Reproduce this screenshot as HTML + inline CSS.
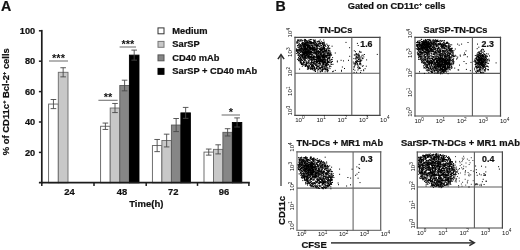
<!DOCTYPE html>
<html><head><meta charset="utf-8"><title>Figure</title>
<style>html,body{margin:0;padding:0;background:#fff;}body{width:520px;height:250px;overflow:hidden;font-family:"Liberation Sans",sans-serif;}svg{display:block;will-change:transform;filter:blur(0.3px);}text{font-family:"Liberation Sans",sans-serif;font-weight:bold;fill:#111;stroke:#111;stroke-width:0.22px;}</style>
</head><body>
<svg width="520" height="250" viewBox="0 0 520 250">
<rect x="0" y="0" width="520" height="250" fill="#ffffff"/>
<text x="0.9" y="11.2" font-size="14.2">A</text>
<text x="275.4" y="11.2" font-size="14.2">B</text>
<text x="35.2" y="155.6" font-size="9.2" text-anchor="end">20</text>
<text x="35.2" y="125.2" font-size="9.2" text-anchor="end">40</text>
<text x="35.2" y="94.8" font-size="9.2" text-anchor="end">60</text>
<text x="35.2" y="64.4" font-size="9.2" text-anchor="end">80</text>
<text x="35.2" y="34.0" font-size="9.2" text-anchor="end">100</text>
<text x="69.5" y="194.7" font-size="9.4" text-anchor="middle">24</text>
<text x="121.9" y="194.7" font-size="9.4" text-anchor="middle">48</text>
<text x="173.3" y="194.7" font-size="9.4" text-anchor="middle">72</text>
<text x="223.9" y="194.7" font-size="9.4" text-anchor="middle">96</text>
<text x="146.3" y="207.2" font-size="9.5" text-anchor="middle">Time(h)</text>
<text transform="translate(9.2,101.7) rotate(-90)" font-size="9.45" text-anchor="middle">% of CD11c<tspan font-size="5.5" dy="-3.2">+</tspan><tspan dy="3.2"> Bcl-2</tspan><tspan font-size="5.5" dy="-3.2">+</tspan><tspan dy="3.2"> cells</tspan></text>
<rect x="48.60" y="104.06" width="9.70" height="78.74" fill="#ffffff" stroke="#606060" stroke-width="0.9"/>
<rect x="58.30" y="72.30" width="9.70" height="110.50" fill="#c8c8c8" stroke="#6a6a6a" stroke-width="0.9"/>
<path d="M53.45 99.50V108.62M50.65 99.50H56.25M50.65 108.62H56.25" stroke="#484848" stroke-width="0.9" fill="none"/>
<path d="M63.15 67.74V76.86M60.35 67.74H65.95M60.35 76.86H65.95" stroke="#484848" stroke-width="0.9" fill="none"/>
<rect x="100.60" y="126.26" width="9.60" height="56.54" fill="#ffffff" stroke="#606060" stroke-width="0.9"/>
<rect x="110.20" y="108.02" width="9.60" height="74.78" fill="#c8c8c8" stroke="#6a6a6a" stroke-width="0.9"/>
<rect x="119.80" y="85.52" width="9.60" height="97.28" fill="#868686" stroke="#5a5a5a" stroke-width="0.9"/>
<rect x="129.40" y="55.12" width="9.60" height="127.68" fill="#000000" stroke="#000000" stroke-width="0.9"/>
<path d="M105.40 123.06V129.45M102.60 123.06H108.20M102.60 129.45H108.20" stroke="#484848" stroke-width="0.9" fill="none"/>
<path d="M115.00 103.46V112.58M112.20 103.46H117.80M112.20 112.58H117.80" stroke="#484848" stroke-width="0.9" fill="none"/>
<path d="M124.60 80.20V90.84M121.80 80.20H127.40M121.80 90.84H127.40" stroke="#484848" stroke-width="0.9" fill="none"/>
<path d="M134.20 50.10V60.14M131.40 50.10H137.00M131.40 60.14H137.00" stroke="#484848" stroke-width="0.9" fill="none"/>
<rect x="152.40" y="145.56" width="9.50" height="37.24" fill="#ffffff" stroke="#606060" stroke-width="0.9"/>
<rect x="161.90" y="140.54" width="9.50" height="42.26" fill="#c8c8c8" stroke="#6a6a6a" stroke-width="0.9"/>
<rect x="171.40" y="125.04" width="9.50" height="57.76" fill="#868686" stroke="#5a5a5a" stroke-width="0.9"/>
<rect x="180.90" y="112.88" width="9.50" height="69.92" fill="#000000" stroke="#000000" stroke-width="0.9"/>
<path d="M157.15 139.48V151.64M154.35 139.48H159.95M154.35 151.64H159.95" stroke="#484848" stroke-width="0.9" fill="none"/>
<path d="M166.65 134.16V146.93M163.85 134.16H169.45M163.85 146.93H169.45" stroke="#484848" stroke-width="0.9" fill="none"/>
<path d="M176.15 118.50V131.58M173.35 118.50H178.95M173.35 131.58H178.95" stroke="#484848" stroke-width="0.9" fill="none"/>
<path d="M185.65 107.41V118.35M182.85 107.41H188.45M182.85 118.35H188.45" stroke="#484848" stroke-width="0.9" fill="none"/>
<rect x="204.00" y="152.10" width="9.45" height="30.70" fill="#ffffff" stroke="#606060" stroke-width="0.9"/>
<rect x="213.45" y="149.36" width="9.45" height="33.44" fill="#c8c8c8" stroke="#6a6a6a" stroke-width="0.9"/>
<rect x="222.90" y="132.34" width="9.45" height="50.46" fill="#868686" stroke="#5a5a5a" stroke-width="0.9"/>
<rect x="232.35" y="122.46" width="9.45" height="60.34" fill="#000000" stroke="#000000" stroke-width="0.9"/>
<path d="M208.72 149.06V155.14M205.92 149.06H211.53M205.92 155.14H211.53" stroke="#484848" stroke-width="0.9" fill="none"/>
<path d="M218.17 144.80V153.92M215.37 144.80H220.97M215.37 153.92H220.97" stroke="#484848" stroke-width="0.9" fill="none"/>
<path d="M227.62 128.69V135.98M224.82 128.69H230.43M224.82 135.98H230.43" stroke="#484848" stroke-width="0.9" fill="none"/>
<path d="M237.07 117.90V127.02M234.27 117.90H239.88M234.27 127.02H239.88" stroke="#484848" stroke-width="0.9" fill="none"/>
<g stroke="#1c1c1c" stroke-width="1.7" fill="none">
<path d="M41.8 29.9V183.5"/>
<path d="M38.9 182.7H249.8"/>
</g>
<g stroke="#1c1c1c" stroke-width="1.5" fill="none">
<path d="M38.9 152.4H41.8"/>
<path d="M38.9 122.0H41.8"/>
<path d="M38.9 91.6H41.8"/>
<path d="M38.9 61.2H41.8"/>
<path d="M38.9 30.8H41.8"/>
<path d="M41.8 182.7V185.9"/>
<path d="M94.0 182.7V185.9"/>
<path d="M146.2 182.7V185.9"/>
<path d="M197.5 182.7V185.9"/>
<path d="M248.9 182.7V185.9"/>
</g>
<path d="M49 61H68" stroke="#777" stroke-width="1.1"/>
<text x="58.5" y="61.9" font-size="11" text-anchor="middle" fill="#222" style="stroke-width:0">***</text>
<path d="M119.6 47H136" stroke="#777" stroke-width="1.1"/>
<text x="127.8" y="48.4" font-size="11" text-anchor="middle" fill="#222" style="stroke-width:0">***</text>
<path d="M98.4 100.3H117.6" stroke="#777" stroke-width="1.1"/>
<text x="108.0" y="100.9" font-size="11" text-anchor="middle" fill="#222" style="stroke-width:0">**</text>
<path d="M221.6 115H240" stroke="#777" stroke-width="1.1"/>
<text x="230.8" y="115.6" font-size="11" text-anchor="middle" fill="#222" style="stroke-width:0">*</text>
<rect x="158" y="27.9" width="6" height="5.9" fill="#ffffff" stroke="#333" stroke-width="1"/>
<text x="172.3" y="33.6" font-size="9.3">Medium</text>
<rect x="158" y="41.4" width="6" height="5.9" fill="#c8c8c8" stroke="#777" stroke-width="1"/>
<text x="172.3" y="47.1" font-size="9.3">SarSP</text>
<rect x="158" y="54.9" width="6" height="5.9" fill="#868686" stroke="#555" stroke-width="1"/>
<text x="172.3" y="60.6" font-size="9.3">CD40 mAb</text>
<rect x="158" y="68.4" width="6" height="5.9" fill="#000000" stroke="#000" stroke-width="1"/>
<text x="172.3" y="74.1" font-size="9.3">SarSP + CD40 mAb</text>
<text x="396.6" y="9.0" font-size="9.3" text-anchor="middle">Gated on CD11c<tspan font-size="5.5" dy="-3.4">+</tspan><tspan dy="3.4"> cells</tspan></text>
<path d="M295 116.0V36.8" stroke="#585858" stroke-width="1.2" fill="none"/>
<path d="M379.9 116.0V36.8" stroke="#484848" stroke-width="1.2" fill="none"/>
<path d="M294.4 37.4H380.5" stroke="#484848" stroke-width="1.2" fill="none"/>
<path d="M294.4 115.4H380.5" stroke="#484848" stroke-width="1.2" fill="none"/>
<path d="M351.8 37.4V115.4M295 73.3H379.9" stroke="#5c5c5c" stroke-width="1.1" fill="none"/>
<text x="335.5" y="33.2" font-size="9.2" text-anchor="middle">TN-DCs</text>
<text x="366.4" y="47.4" font-size="8.8" text-anchor="middle">1.6</text>
<text x="295.2" y="121.7" font-size="6.1" style="font-weight:normal;stroke-width:0" fill="#3a3a3a">10<tspan font-size="4.7" dy="-2.5">0</tspan></text>
<text transform="translate(292.3,115.4) rotate(-90)" font-size="6.1" style="font-weight:normal;stroke-width:0" fill="#3a3a3a">10<tspan font-size="4.7" dy="-2.5">0</tspan></text>
<text x="316.4" y="121.7" font-size="6.1" style="font-weight:normal;stroke-width:0" fill="#3a3a3a">10<tspan font-size="4.7" dy="-2.5">1</tspan></text>
<text transform="translate(292.3,95.9) rotate(-90)" font-size="6.1" style="font-weight:normal;stroke-width:0" fill="#3a3a3a">10<tspan font-size="4.7" dy="-2.5">1</tspan></text>
<text x="337.6" y="121.7" font-size="6.1" style="font-weight:normal;stroke-width:0" fill="#3a3a3a">10<tspan font-size="4.7" dy="-2.5">2</tspan></text>
<text transform="translate(292.3,76.4) rotate(-90)" font-size="6.1" style="font-weight:normal;stroke-width:0" fill="#3a3a3a">10<tspan font-size="4.7" dy="-2.5">2</tspan></text>
<text x="358.9" y="121.7" font-size="6.1" style="font-weight:normal;stroke-width:0" fill="#3a3a3a">10<tspan font-size="4.7" dy="-2.5">3</tspan></text>
<text transform="translate(292.3,56.9) rotate(-90)" font-size="6.1" style="font-weight:normal;stroke-width:0" fill="#3a3a3a">10<tspan font-size="4.7" dy="-2.5">3</tspan></text>
<text x="380.1" y="121.7" font-size="6.1" style="font-weight:normal;stroke-width:0" fill="#3a3a3a">10<tspan font-size="4.7" dy="-2.5">4</tspan></text>
<text transform="translate(292.3,37.4) rotate(-90)" font-size="6.1" style="font-weight:normal;stroke-width:0" fill="#3a3a3a">10<tspan font-size="4.7" dy="-2.5">4</tspan></text>
<path d="M323.7 47.9h1M312.3 54.9h1M319.9 68.5h1M314.1 52.0h1M312.8 59.3h1M298.7 41.0h1M304.6 40.5h1M311.5 57.9h1M318.9 52.2h1M309.5 48.8h1M305.9 62.0h1M327.5 54.2h1M304.3 46.7h1M311.7 67.2h1M317.3 44.7h1M304.4 64.0h1M313.9 56.1h1M329.3 54.6h1M300.4 58.7h1M313.9 61.4h1M321.7 57.8h1M321.4 62.9h1M313.9 41.6h1M302.5 53.0h1M313.7 63.8h1M310.0 53.2h1M310.2 57.8h1M324.2 50.2h1M322.7 69.5h1M306.5 53.5h1M316.6 54.5h1M303.8 60.5h1M311.7 68.3h1M308.6 45.0h1M319.3 67.1h1M308.7 57.6h1M312.4 50.0h1M320.1 48.2h1M304.5 56.2h1M321.1 49.6h1M310.3 39.6h1M318.8 41.3h1M314.6 54.7h1M310.4 59.8h1M299.2 45.9h1M318.8 42.8h1M314.6 48.9h1M317.6 45.5h1M319.8 43.8h1M297.2 51.8h1M307.5 43.7h1M316.4 64.4h1M303.8 52.6h1M328.3 58.7h1M327.0 63.3h1M312.4 49.9h1M300.3 59.6h1M306.7 63.1h1M310.9 68.7h1M323.3 63.0h1M313.1 57.8h1M300.7 51.1h1M307.3 48.3h1M307.3 41.9h1M306.0 65.6h1M302.0 58.1h1M310.8 47.8h1M310.9 43.5h1M321.2 49.9h1M324.1 64.1h1M313.5 47.3h1M311.8 43.0h1M323.6 50.3h1M327.7 49.8h1M319.1 61.9h1M323.8 57.8h1M329.6 55.3h1M325.9 65.5h1M304.8 44.0h1M313.5 49.3h1M322.5 53.2h1M320.8 41.4h1M301.2 63.8h1M318.7 63.8h1M298.8 50.0h1M310.1 68.3h1M323.3 57.1h1M310.1 47.7h1M316.1 59.7h1M320.1 60.9h1M324.9 64.3h1M321.9 71.4h1M308.6 51.7h1M311.3 53.0h1M298.3 40.8h1M313.3 53.5h1M316.1 47.0h1M329.2 66.1h1M300.2 40.1h1M304.0 42.9h1M319.8 61.3h1M301.3 57.8h1M304.5 52.6h1M319.6 65.0h1M301.4 48.1h1M324.5 45.4h1M324.3 54.7h1M296.1 42.1h1M314.4 62.9h1M324.9 69.2h1M302.4 42.7h1M328.0 53.1h1M327.0 69.5h1M312.9 58.2h1M323.1 62.4h1M325.3 46.5h1M301.2 47.7h1M319.7 39.9h1M326.6 71.1h1M314.4 47.0h1M305.6 65.8h1M325.6 57.2h1M309.1 63.1h1M300.9 62.3h1M314.5 64.1h1M319.2 52.1h1M299.2 56.5h1M306.6 48.6h1M303.7 62.5h1M324.8 50.3h1M311.2 56.6h1M322.6 58.3h1M324.7 62.4h1M315.6 48.0h1M326.1 66.1h1M308.0 67.6h1M306.0 64.6h1M300.0 60.7h1M328.7 58.5h1M316.5 46.6h1M298.1 60.5h1M309.8 64.6h1M311.4 64.1h1M301.9 44.4h1M313.4 49.5h1M313.5 68.9h1M307.7 65.2h1M320.6 43.3h1M304.1 54.5h1M301.8 66.3h1M307.6 67.0h1M310.1 57.3h1M302.9 44.1h1M327.9 46.3h1M299.7 44.5h1M309.4 41.7h1M303.3 62.4h1M311.2 61.6h1M305.5 54.8h1M313.8 69.3h1M310.9 45.7h1M318.1 58.5h1M317.0 57.4h1M323.8 42.1h1M322.9 60.7h1M331.5 59.4h1M317.0 50.0h1M305.2 58.0h1M318.4 40.9h1M319.3 49.1h1M319.3 60.8h1M301.0 59.9h1M331.1 55.0h1M310.5 48.6h1M317.2 42.0h1M322.4 47.8h1M308.7 46.5h1M304.4 46.6h1M316.8 48.5h1M326.5 57.2h1M311.9 68.5h1M312.9 43.6h1M299.4 39.8h1M318.2 66.7h1M316.6 61.0h1M304.1 58.1h1M324.1 48.1h1M300.8 48.2h1M323.3 63.7h1M313.2 39.8h1M316.1 46.3h1M303.4 59.0h1M327.2 53.8h1M299.7 44.9h1M317.7 57.8h1M307.0 66.3h1M324.0 47.5h1M315.9 51.0h1M310.8 57.4h1M326.6 61.6h1M313.8 50.2h1M306.4 52.0h1M322.5 68.4h1M317.8 53.0h1M318.0 43.8h1M307.6 66.3h1M300.2 57.5h1M308.1 63.8h1M308.1 60.8h1M326.4 59.1h1M309.6 58.9h1M319.5 67.6h1M308.2 57.3h1M297.8 58.9h1M304.9 46.8h1M330.7 61.5h1M308.9 47.5h1M302.0 64.8h1M299.6 46.0h1M325.6 52.7h1M313.3 57.9h1M297.2 40.8h1M328.1 50.5h1M308.0 49.9h1M321.9 46.1h1M313.3 56.1h1M299.3 50.8h1M301.0 47.9h1M301.5 60.0h1M302.3 48.3h1M299.0 48.2h1M298.8 47.2h1M313.8 70.8h1M322.0 42.8h1M329.4 62.5h1M313.3 48.1h1M332.0 61.4h1M297.8 40.3h1M308.8 58.5h1M313.7 52.5h1M325.1 67.0h1M318.1 50.9h1M310.2 48.7h1M323.7 62.3h1M326.6 68.3h1M327.0 45.3h1M322.3 44.5h1M307.3 53.9h1M312.3 57.5h1M313.4 57.3h1M325.0 65.3h1M304.0 54.9h1M318.7 61.7h1M310.6 56.9h1M302.4 56.8h1M311.8 66.2h1M300.6 56.3h1M304.0 52.3h1M307.9 62.4h1M325.2 53.0h1M313.9 50.9h1M297.5 53.0h1M323.5 51.1h1M297.5 51.0h1M324.6 48.6h1M303.3 46.7h1M309.1 53.9h1M311.6 52.5h1M318.7 57.9h1M321.2 67.2h1M324.4 62.2h1M327.1 59.1h1M303.3 59.2h1M314.3 45.7h1M307.5 44.6h1M296.9 41.2h1M312.3 59.2h1M323.7 57.7h1M323.9 53.8h1M302.1 55.3h1M313.4 68.0h1M302.0 43.1h1M323.3 47.3h1M324.0 56.8h1M322.2 56.7h1M329.0 57.3h1M302.2 40.3h1M298.7 61.1h1M315.9 53.5h1M311.6 65.9h1M308.6 60.9h1M312.7 65.9h1M306.9 69.2h1M312.9 42.7h1M306.3 58.4h1M312.4 65.0h1M329.5 66.0h1M315.8 54.6h1M306.7 63.7h1M312.0 48.8h1M330.6 59.4h1M308.8 41.2h1M322.5 51.8h1M325.3 60.2h1M309.3 43.8h1M318.5 43.6h1M312.3 67.9h1M319.7 63.9h1M311.2 58.7h1M319.8 57.2h1M328.0 48.0h1M313.8 61.4h1M304.2 44.0h1M311.8 58.1h1M327.8 46.8h1M313.7 67.9h1M308.3 50.8h1M329.5 62.0h1M299.2 60.1h1M326.7 62.5h1M305.1 46.0h1M315.5 49.1h1M303.8 55.6h1M314.7 50.1h1M315.1 64.3h1M320.1 60.1h1M299.8 61.7h1M318.9 46.3h1M327.4 61.2h1M329.0 66.9h1M295.9 48.9h1M306.5 42.8h1M312.4 64.7h1M317.1 66.5h1M307.7 44.9h1M310.5 52.6h1M327.0 60.0h1M325.8 50.8h1M299.2 51.8h1M306.0 42.2h1M304.3 50.9h1M314.5 53.1h1M303.7 57.8h1M315.0 71.5h1M325.9 51.6h1M304.8 66.1h1M311.1 42.8h1M318.6 61.9h1M309.5 41.0h1M309.7 48.2h1M302.1 57.1h1M326.2 55.5h1M321.5 57.3h1M310.1 47.2h1M319.1 51.4h1M315.2 48.2h1M314.3 59.7h1M309.1 54.8h1M312.1 60.2h1M329.3 56.4h1M322.8 61.1h1M299.9 57.4h1M313.8 59.6h1M309.3 59.3h1M299.6 58.0h1M309.7 51.8h1M297.9 47.8h1M305.1 57.5h1M324.0 48.2h1M319.6 61.3h1M322.0 69.5h1M303.2 64.8h1M297.0 45.5h1M300.4 40.3h1M298.3 45.7h1M329.9 55.9h1M301.8 43.8h1M329.8 51.1h1M314.4 43.2h1M310.0 56.9h1M311.3 62.8h1M306.8 54.2h1M316.3 43.4h1M322.1 56.1h1M313.8 40.4h1M323.1 64.3h1M318.8 41.8h1M332.1 57.6h1M313.4 60.8h1M318.0 46.1h1M306.6 41.2h1M329.5 53.7h1M314.0 67.7h1M328.0 57.8h1M299.0 50.1h1M327.2 65.0h1M301.1 46.1h1M308.6 56.9h1M312.7 57.0h1M313.6 42.5h1M307.6 62.4h1M308.4 47.2h1M329.6 53.8h1M326.3 50.2h1M315.1 69.7h1M330.4 63.1h1M325.9 69.0h1M309.7 64.1h1M317.7 48.3h1M308.5 68.7h1M328.6 61.9h1M314.2 56.9h1M315.8 45.3h1M319.3 58.3h1M329.2 58.0h1M311.1 61.1h1M317.2 41.4h1M303.2 48.2h1M304.1 57.2h1M314.1 67.7h1M306.8 46.1h1M322.6 42.3h1M305.6 64.7h1M327.1 53.2h1M320.3 43.3h1M319.3 46.6h1M326.8 52.0h1M297.5 39.5h1M303.2 62.1h1M328.6 53.5h1M328.6 50.2h1M324.6 71.8h1M301.3 51.3h1M300.3 58.6h1M308.0 53.2h1M310.9 68.8h1M329.2 48.2h1M310.2 42.4h1M303.9 43.8h1M296.6 43.2h1M310.4 62.5h1M314.4 59.7h1M310.4 59.1h1M300.0 62.4h1M319.7 45.0h1M309.9 49.7h1M301.9 60.5h1M313.6 66.7h1M304.4 49.8h1M307.6 55.0h1M300.3 49.0h1M323.6 47.3h1M304.8 59.9h1M301.5 55.2h1M321.7 48.8h1M325.8 63.2h1M324.9 45.2h1M326.1 67.1h1M307.7 68.7h1M311.4 42.8h1M318.0 69.4h1M303.7 59.3h1M326.7 67.4h1M320.8 60.1h1M327.0 62.5h1M310.6 68.0h1M313.5 64.0h1M303.9 53.5h1M309.1 52.2h1M320.6 71.2h1M299.0 53.6h1M298.2 44.7h1M298.6 49.8h1M311.2 57.8h1M323.3 46.2h1M302.8 55.1h1M311.7 60.2h1M313.5 50.9h1M325.8 64.3h1M301.6 56.3h1M296.0 50.5h1M313.3 63.1h1M309.6 56.2h1M305.7 53.5h1M322.3 43.4h1M319.7 71.8h1M298.8 43.6h1M315.9 52.7h1M324.0 57.6h1M327.0 71.8h1M321.6 70.9h1M316.0 55.5h1M318.3 51.6h1M304.4 62.1h1M324.9 69.0h1M296.5 49.5h1M307.0 66.2h1M320.2 59.2h1M299.3 49.9h1M320.5 61.2h1M323.7 51.1h1M326.6 55.5h1M309.0 45.4h1M300.9 39.9h1M305.7 43.4h1M310.6 60.2h1M298.4 42.9h1M321.2 49.6h1M297.7 55.5h1M297.4 50.9h1M328.5 54.2h1M324.3 54.0h1M305.2 64.6h1M306.7 52.3h1M323.7 49.0h1M306.8 46.2h1M311.1 59.3h1M324.6 60.2h1M331.3 64.5h1M316.1 62.8h1M300.4 56.1h1M323.2 51.9h1M296.6 42.1h1M309.4 68.0h1M305.3 48.0h1M327.6 48.6h1M319.9 59.3h1M301.1 64.2h1M316.3 65.0h1M301.2 59.5h1M325.3 55.5h1M328.2 61.5h1M300.8 48.5h1M308.4 47.7h1M310.8 52.3h1M307.6 56.1h1M311.3 39.6h1M312.8 62.6h1M323.1 63.5h1M304.5 47.1h1M309.9 46.8h1M310.6 45.2h1M302.1 52.5h1M317.3 70.3h1M309.6 51.6h1M327.2 70.7h1M324.2 44.2h1M303.1 47.8h1M302.2 56.5h1M324.1 45.7h1M315.1 42.4h1M318.2 50.8h1M311.1 62.3h1M323.0 45.5h1M321.9 49.3h1M329.5 68.6h1M321.8 59.6h1M305.2 52.0h1M307.2 42.5h1M297.3 42.3h1M327.0 59.0h1M301.7 42.7h1M315.7 45.6h1M314.0 41.1h1M310.7 51.4h1M301.8 45.8h1M309.4 50.1h1M297.9 54.9h1M308.2 45.8h1M319.7 43.2h1M298.4 44.7h1M313.5 51.2h1M305.8 55.1h1M324.3 62.2h1M306.0 62.1h1M304.7 57.2h1M320.9 45.7h1M298.3 59.2h1M315.6 54.0h1M317.2 67.2h1M303.3 47.0h1M308.8 60.9h1M317.3 52.1h1M304.0 48.9h1M310.6 42.9h1M308.4 66.0h1M322.9 49.0h1M302.6 62.9h1M312.1 69.2h1M312.8 57.8h1M316.8 51.6h1M322.2 62.2h1M324.4 52.3h1M321.8 57.5h1M324.2 59.5h1M326.0 49.9h1M307.4 59.2h1M324.9 55.8h1M313.1 59.1h1M304.8 48.9h1M303.0 63.1h1M323.8 44.1h1M318.0 56.4h1M298.8 56.4h1M309.6 57.7h1M314.5 42.7h1M318.7 65.8h1M300.6 63.4h1M314.9 63.8h1M323.6 56.1h1M321.3 65.1h1M308.1 51.6h1M316.4 53.3h1M323.3 51.8h1M325.8 50.4h1M310.3 69.5h1M327.9 55.4h1M307.2 54.8h1M304.4 51.9h1M306.3 51.0h1M323.1 47.8h1M310.7 63.7h1M320.6 53.9h1M299.2 58.5h1M313.4 66.6h1M310.4 51.6h1M311.3 48.3h1M302.9 54.4h1M316.2 54.4h1M320.3 69.1h1M316.1 68.0h1M321.1 67.6h1M311.1 62.1h1M326.8 55.8h1M315.9 46.7h1M327.7 68.1h1M312.4 66.5h1M320.8 56.1h1M302.4 63.3h1M329.2 48.6h1M307.7 57.5h1M317.6 44.7h1M323.7 69.6h1M312.6 59.7h1M304.5 61.0h1M305.0 58.8h1M316.2 57.5h1M327.3 56.8h1M323.0 46.6h1M320.5 49.9h1M297.6 53.6h1M321.8 59.1h1M317.3 72.0h1M309.1 42.1h1M308.2 45.6h1M297.7 50.2h1M324.6 61.6h1M313.4 47.4h1M324.9 68.3h1M301.7 53.1h1M319.6 67.5h1M305.1 66.2h1M325.9 55.8h1M312.2 49.4h1M328.6 55.3h1M318.3 68.8h1M305.8 53.0h1M315.7 65.2h1M323.8 51.8h1M303.6 46.1h1M312.8 49.8h1M329.9 54.1h1M308.9 47.4h1M330.6 64.5h1M325.0 59.9h1M313.6 70.4h1M317.8 63.7h1M297.6 54.9h1M315.4 45.8h1M323.1 47.2h1M297.1 59.4h1M296.6 43.1h1M301.6 56.7h1M305.0 65.9h1M324.9 65.4h1M312.1 65.1h1M316.4 68.5h1M306.5 57.0h1M305.4 60.6h1M315.3 41.3h1M322.2 61.2h1M302.9 56.1h1M311.9 46.1h1M319.1 48.9h1M327.9 62.3h1M305.6 45.0h1M306.7 50.9h1M315.3 52.5h1M300.9 64.2h1M317.0 45.9h1M304.7 44.9h1M313.6 62.4h1M300.6 41.1h1M313.8 56.5h1M330.8 55.0h1M315.3 50.1h1M303.7 51.2h1M306.2 55.4h1M317.8 41.6h1M325.5 49.3h1M312.8 52.9h1M312.7 44.9h1M324.3 55.8h1M300.5 49.2h1M313.2 43.0h1M307.9 51.4h1M323.7 61.5h1M305.4 66.3h1M301.2 55.7h1M304.8 42.9h1M318.7 60.0h1M310.8 41.7h1M305.5 49.7h1M302.6 57.3h1M322.3 43.2h1M306.1 53.7h1M308.9 57.0h1M315.5 49.5h1M322.3 49.3h1M318.9 68.3h1M323.5 48.5h1M322.4 48.5h1M312.7 50.0h1M322.4 43.8h1M316.1 49.1h1M303.6 47.3h1M315.8 67.8h1M316.4 48.4h1M323.0 67.0h1M303.5 58.4h1M309.7 66.9h1M323.2 44.1h1M312.3 45.9h1M304.4 64.3h1M327.3 62.0h1M306.3 44.4h1M314.1 43.7h1M306.5 42.8h1M304.9 51.9h1M324.2 59.7h1M311.2 43.2h1M302.6 54.8h1M312.1 57.8h1M309.9 41.5h1M312.1 62.6h1M322.9 52.2h1M303.6 58.2h1M297.3 50.4h1M319.9 71.8h1M321.8 66.5h1M302.8 52.8h1M316.1 50.0h1M304.2 41.4h1M314.5 69.2h1M305.6 58.4h1M321.4 54.1h1M312.4 43.9h1M314.0 59.8h1M304.3 57.3h1M310.4 64.0h1M328.4 62.7h1M323.0 59.6h1M315.0 57.2h1M317.9 52.9h1M310.5 43.4h1M326.3 49.0h1M301.6 64.4h1M325.7 60.2h1M309.0 65.7h1M308.8 53.9h1M322.5 51.2h1M309.5 50.7h1M323.6 58.7h1M303.4 45.7h1M323.0 57.6h1M303.0 57.9h1M305.3 48.5h1M297.6 40.7h1M299.5 41.3h1M312.8 63.5h1M322.3 64.5h1M299.9 61.7h1M320.7 47.5h1M315.9 67.8h1M318.6 53.4h1M305.8 53.2h1M306.3 48.5h1M328.7 57.8h1M323.3 45.1h1M319.7 63.6h1M326.4 69.8h1M316.5 62.1h1M319.2 68.6h1M299.1 53.1h1M314.8 40.0h1M307.4 56.4h1M323.8 57.8h1M306.2 63.3h1M311.5 67.4h1M299.7 59.8h1M313.5 41.3h1M324.0 68.3h1M301.0 50.8h1M314.9 44.1h1M301.1 44.0h1M325.0 69.4h1M328.5 52.4h1M300.1 54.5h1M304.4 47.8h1M315.7 57.1h1M330.2 60.3h1M327.8 53.0h1M306.6 45.5h1M296.2 51.4h1M314.8 44.2h1M314.6 49.5h1M304.3 53.7h1M315.7 45.7h1M301.3 63.3h1M325.4 70.0h1M301.2 49.8h1M301.4 43.8h1M323.4 54.5h1M300.5 60.6h1M317.5 51.5h1M324.9 58.9h1M322.3 48.8h1M311.9 46.3h1M302.2 48.7h1M312.0 47.2h1M309.6 63.1h1M313.3 57.4h1M304.6 65.9h1M300.8 45.4h1M322.6 56.9h1M320.2 53.8h1M325.5 63.6h1M310.5 52.3h1M300.3 49.0h1M328.7 52.0h1M328.2 64.4h1M325.4 56.4h1M322.3 57.2h1M312.9 66.4h1M303.3 65.0h1M322.5 51.9h1M329.4 57.6h1M311.2 45.6h1M305.0 39.7h1M317.6 45.2h1M303.0 61.7h1M326.5 69.3h1M327.1 60.4h1M316.3 62.3h1M304.2 49.4h1M326.8 61.1h1M307.5 55.7h1M314.3 50.2h1M311.8 48.7h1M324.4 61.0h1M303.2 54.7h1M328.9 60.1h1M322.2 65.7h1M314.3 63.9h1M304.2 39.4h1M297.4 49.5h1M325.3 56.4h1M327.5 52.2h1M306.9 45.7h1M312.6 57.0h1M314.8 70.8h1M313.2 57.5h1M314.1 49.5h1M300.0 45.1h1M310.9 42.5h1M309.7 67.7h1M331.0 62.6h1M326.6 48.7h1M319.8 56.9h1M309.4 51.1h1M315.6 51.7h1M313.2 58.1h1M307.2 66.9h1M327.9 51.0h1M322.7 42.6h1M321.0 70.1h1M309.3 47.5h1M306.9 46.7h1M311.0 65.3h1M319.5 54.5h1M322.1 67.7h1M314.3 45.0h1M305.8 63.7h1M324.4 53.3h1M316.6 51.3h1M329.0 50.9h1M308.3 54.9h1M301.1 62.0h1M326.3 44.1h1M300.3 46.3h1M315.7 44.5h1M319.8 43.4h1M297.7 50.2h1M316.3 55.6h1M323.9 43.1h1M330.2 54.2h1M308.0 56.4h1M321.1 48.1h1M322.1 52.2h1M306.6 43.1h1M299.7 62.9h1M304.8 41.1h1M304.6 39.7h1M313.7 67.9h1M304.4 59.7h1M300.1 52.6h1M331.3 59.5h1M316.9 53.2h1M321.5 42.9h1M302.5 51.7h1M311.4 64.2h1M317.1 45.0h1M303.8 59.9h1M296.9 45.9h1M303.3 50.7h1M307.3 67.3h1M302.8 51.1h1M311.1 66.5h1M311.2 59.4h1M311.2 51.7h1M307.7 45.0h1M326.6 69.8h1M321.4 66.2h1M327.6 64.4h1M311.6 68.4h1M297.7 51.2h1M306.7 42.1h1M316.6 66.4h1M316.6 50.0h1M300.4 48.7h1M324.6 66.2h1M320.6 48.9h1M309.7 44.2h1M310.5 47.8h1M313.3 62.3h1M319.0 59.8h1M315.8 45.2h1M318.0 53.6h1M309.8 52.7h1M315.4 42.1h1M318.4 53.0h1M310.3 64.7h1M315.8 59.7h1M304.4 43.7h1M330.5 53.0h1M300.4 46.2h1M306.0 55.3h1M319.1 43.9h1M327.5 70.0h1M330.4 66.6h1M317.9 58.6h1M298.0 57.4h1M327.9 62.4h1M305.2 53.3h1M328.8 59.9h1M326.5 63.2h1M321.4 66.1h1M320.6 61.4h1M304.4 53.7h1M302.0 40.9h1M326.4 65.6h1M321.5 43.8h1M319.6 45.1h1M317.3 56.0h1M304.1 56.9h1M299.2 60.0h1M303.7 44.2h1M325.0 62.9h1M314.3 53.5h1M311.5 44.0h1M301.5 47.8h1M313.5 48.6h1M326.3 50.6h1M305.2 51.5h1M310.3 42.3h1M323.8 47.7h1M315.6 45.0h1M317.7 66.3h1M321.2 61.1h1M316.6 60.9h1M298.6 49.2h1M300.9 54.9h1M302.9 42.8h1M327.2 47.7h1M302.4 42.8h1M304.8 49.4h1M323.5 68.6h1M314.6 49.9h1M315.8 65.7h1M318.3 52.0h1M303.8 52.7h1M323.4 55.1h1M313.2 56.5h1M306.4 55.1h1M305.7 48.2h1M316.3 58.8h1M314.1 68.7h1M316.3 68.4h1M318.2 56.7h1M318.2 60.1h1M327.7 70.8h1M318.3 60.5h1M320.9 45.7h1M315.5 62.2h1M309.2 48.3h1M311.0 65.8h1M328.7 57.8h1M326.4 64.1h1M314.5 59.8h1M304.1 44.0h1M307.5 68.8h1M323.1 45.9h1M304.3 43.7h1M304.3 44.6h1M322.2 44.2h1M320.8 45.7h1M308.7 42.6h1M308.2 50.3h1M317.0 45.8h1M327.7 64.9h1M316.2 43.5h1M310.4 56.6h1M310.8 59.6h1M313.0 40.8h1M306.1 52.4h1M311.1 60.0h1M301.3 48.9h1M304.3 53.1h1M307.4 46.1h1M300.1 52.1h1M305.4 50.6h1M306.7 52.2h1M305.9 49.6h1M307.1 47.8h1M310.4 53.7h1M305.0 47.7h1M304.2 54.2h1M308.2 46.4h1M310.2 49.7h1M304.3 45.7h1M311.4 53.1h1M308.9 46.0h1M304.5 45.4h1M305.9 53.2h1M302.9 50.5h1M308.7 48.6h1M306.4 44.6h1M313.9 48.8h1M295.8 50.8h1M301.2 51.9h1M304.0 45.9h1M308.1 51.2h1M304.6 40.6h1M303.2 49.3h1M307.7 45.0h1M304.3 52.1h1M307.0 47.1h1M309.5 59.1h1M309.9 49.7h1M299.9 50.4h1M307.8 42.9h1M305.3 53.4h1M303.0 46.0h1M308.4 53.8h1M306.4 45.8h1M307.8 51.6h1M309.6 45.4h1M304.5 50.8h1M310.1 51.9h1M306.7 52.9h1M307.1 45.7h1M310.1 43.2h1M299.7 51.4h1M299.5 49.9h1M301.5 51.9h1M309.4 43.6h1M306.5 52.2h1M303.9 48.2h1M302.0 44.2h1M299.4 46.9h1M307.2 53.0h1M305.9 49.7h1M307.5 49.6h1M309.6 49.3h1M307.1 47.2h1M311.3 54.4h1M304.4 49.1h1M311.9 42.6h1M307.7 42.6h1M303.9 46.5h1M306.7 47.3h1M314.5 52.2h1M303.7 52.3h1M304.4 54.2h1M306.7 46.9h1M306.3 54.5h1M313.3 46.0h1M305.2 48.3h1M308.6 46.8h1M304.0 56.1h1M301.7 54.1h1M305.4 53.9h1M305.0 44.0h1M308.6 49.4h1M311.1 44.0h1M304.2 49.7h1M310.2 51.5h1M302.0 55.1h1M312.8 48.4h1M300.2 50.0h1M304.0 48.4h1M306.9 44.3h1M304.5 56.4h1M301.6 50.7h1M308.7 55.5h1M302.1 52.8h1M309.7 43.4h1M300.3 46.3h1M310.0 52.1h1M309.2 52.8h1M308.0 52.1h1M310.0 49.0h1M305.1 52.9h1M305.7 44.6h1M310.4 47.9h1M301.9 43.9h1M304.9 53.5h1M305.1 50.7h1M305.0 52.2h1M304.8 47.8h1M305.8 45.5h1M307.0 49.7h1M310.7 49.2h1M308.9 53.1h1M303.6 54.0h1M304.8 46.5h1M302.2 52.5h1M304.4 41.2h1M303.5 52.0h1M310.1 39.5h1M307.3 51.3h1M304.4 51.2h1M305.2 56.2h1M307.8 48.2h1M302.8 52.2h1M307.9 54.0h1M303.6 40.3h1M305.8 49.1h1M302.5 44.1h1M312.3 47.2h1M307.6 61.3h1M310.1 57.4h1M305.1 52.0h1M302.5 46.0h1M305.6 51.5h1M311.3 50.7h1M312.3 48.3h1M309.0 56.6h1M305.9 40.4h1M307.5 56.3h1M310.2 47.2h1M302.0 55.1h1M309.4 48.5h1M302.8 46.5h1M307.0 46.1h1M308.9 50.3h1M307.1 50.7h1M306.4 62.9h1M311.1 56.4h1M304.5 48.9h1M304.7 43.6h1M302.4 49.6h1M306.8 51.8h1M309.0 41.4h1M305.6 49.2h1M298.6 55.0h1M307.8 47.0h1M308.5 41.8h1M302.7 52.6h1M305.2 56.5h1M306.2 48.2h1M303.1 49.9h1M307.1 54.5h1M306.4 51.7h1M301.6 46.0h1M302.5 48.8h1M311.5 49.2h1M310.7 54.6h1M304.8 44.5h1M301.9 51.0h1M311.6 48.5h1M308.7 39.7h1M310.9 52.6h1M313.2 49.9h1M307.7 43.3h1M306.4 41.1h1M303.1 53.5h1M306.6 56.9h1M302.2 49.6h1M310.2 48.2h1M305.2 52.5h1M312.2 46.2h1M304.7 46.8h1M307.7 53.6h1M303.0 44.0h1M309.4 54.5h1M302.8 50.6h1M311.1 55.2h1M308.2 40.7h1M298.9 55.2h1M300.6 48.8h1M307.0 52.1h1M305.8 45.5h1M313.8 44.5h1M302.6 54.5h1M305.2 51.4h1M306.0 51.8h1M306.9 52.4h1M312.7 52.0h1M305.7 41.9h1M299.8 47.8h1M312.2 47.6h1M307.7 58.5h1M300.2 55.4h1M303.4 45.2h1M304.8 42.4h1M306.5 52.6h1M309.2 51.9h1M305.1 55.6h1M304.0 43.9h1M302.2 57.0h1M305.4 50.2h1M306.3 55.2h1M307.9 50.6h1M297.6 47.4h1M302.6 45.6h1M307.9 55.6h1M309.6 54.3h1M297.1 52.5h1M298.5 46.1h1M308.2 52.8h1M306.2 48.7h1M306.3 43.3h1M313.7 47.9h1M301.9 52.0h1M310.7 49.4h1M306.5 45.7h1M303.7 52.4h1M297.9 52.6h1M301.4 54.9h1M312.0 50.2h1M306.4 56.1h1M309.2 45.9h1M308.3 47.1h1M305.4 42.6h1M309.3 48.8h1M307.3 49.4h1M305.3 49.0h1M304.8 43.2h1M303.2 53.8h1M307.1 41.2h1M305.3 44.7h1M304.8 53.9h1M302.5 52.7h1M320.3 60.6h1M322.2 56.9h1M316.5 58.3h1M317.1 56.7h1M317.5 61.6h1M322.2 61.7h1M319.6 60.1h1M321.6 49.3h1M317.1 58.0h1M316.1 63.2h1M322.5 52.4h1M322.0 49.8h1M322.6 56.3h1M318.7 61.4h1M322.0 51.1h1M315.4 59.0h1M317.0 56.0h1M322.2 57.2h1M317.6 59.4h1M316.6 56.5h1M317.6 54.6h1M327.0 58.2h1M319.5 65.0h1M322.1 60.4h1M320.4 60.8h1M329.8 52.8h1M320.7 54.9h1M324.9 50.9h1M324.5 62.0h1M322.6 62.4h1M321.1 59.6h1M315.6 61.3h1M323.2 55.4h1M329.0 55.6h1M323.1 63.4h1M328.5 55.5h1M323.8 62.5h1M324.5 65.7h1M319.5 51.8h1M320.7 53.2h1M322.9 65.9h1M325.3 62.4h1M317.5 65.2h1M316.0 65.9h1M320.8 56.1h1M320.8 67.5h1M322.9 64.4h1M327.4 62.7h1M319.2 59.2h1M327.9 55.9h1M323.2 53.9h1M321.3 50.5h1M315.1 53.5h1M326.6 53.8h1M327.6 58.6h1M322.9 54.2h1M323.0 48.9h1M319.6 58.5h1M314.2 47.5h1M318.3 55.9h1M315.9 61.0h1M316.2 50.0h1M318.1 51.6h1M319.0 57.3h1M323.0 64.2h1M325.8 57.0h1M320.3 55.4h1M324.0 58.9h1M319.8 48.9h1M320.0 50.1h1M322.3 61.0h1M318.8 61.6h1M321.9 60.5h1M319.3 58.3h1M317.9 59.8h1M318.6 48.9h1M326.5 52.2h1M321.9 55.6h1M319.4 62.4h1M321.6 58.6h1M318.3 57.8h1M319.3 52.0h1M319.7 58.2h1M315.0 59.5h1M320.4 60.5h1M322.5 57.0h1M321.9 67.8h1M320.4 51.9h1M324.8 62.2h1M318.0 51.3h1M324.9 51.4h1M324.4 61.3h1M321.7 55.7h1M326.4 54.0h1M318.1 58.0h1M321.9 70.5h1M320.4 54.8h1M318.2 56.1h1M319.8 64.0h1M322.4 55.0h1M322.4 69.8h1M323.2 51.5h1M318.6 56.8h1M320.6 62.7h1M320.6 56.7h1M318.6 55.4h1M320.9 50.8h1M313.4 57.2h1M316.8 62.1h1M319.2 56.5h1M319.6 52.9h1M323.2 64.5h1M319.0 62.1h1M326.9 60.7h1M315.8 56.7h1M327.4 53.6h1M317.6 63.5h1M316.9 58.1h1M318.3 55.9h1M318.7 56.9h1M319.9 59.7h1M319.3 62.0h1M322.5 57.7h1M323.7 55.9h1M317.2 52.2h1M325.3 56.4h1M321.8 56.7h1M320.9 59.4h1M323.9 57.7h1M320.6 55.1h1M326.0 57.2h1M316.7 60.9h1M325.2 57.3h1M319.3 56.9h1M323.5 56.5h1M319.4 56.1h1M326.8 59.5h1M322.3 60.8h1M323.6 56.3h1M317.2 56.8h1M315.7 59.7h1M321.8 61.5h1M326.3 64.6h1M321.5 51.2h1M315.8 62.0h1M326.9 55.4h1M319.2 60.9h1M323.6 62.3h1M318.1 66.9h1M318.5 55.3h1M322.0 62.8h1M311.7 45.8h1M317.4 58.1h1M319.4 46.9h1M319.5 54.3h1M315.2 52.2h1M324.8 50.6h1M320.1 57.7h1M320.3 52.4h1M314.2 52.1h1M320.5 53.8h1M323.1 55.2h1M323.8 60.3h1M322.9 55.5h1M320.5 53.2h1M319.9 49.3h1M321.4 60.6h1M323.1 59.1h1M319.9 60.8h1M320.0 54.4h1M322.1 63.7h1M319.8 60.5h1M321.6 69.0h1M321.2 55.9h1M317.5 61.9h1M325.9 65.8h1M323.0 56.6h1M317.5 57.6h1M317.4 55.3h1M319.0 56.4h1M318.6 61.7h1M317.3 58.8h1M321.4 52.6h1M319.5 70.0h1M317.4 54.3h1M326.0 63.5h1M319.4 58.1h1M321.7 61.2h1M316.0 60.7h1M316.8 61.8h1M317.1 61.8h1M323.8 66.4h1M323.1 54.5h1M319.8 51.4h1M319.6 49.7h1M321.7 47.8h1M317.6 60.3h1M319.7 49.2h1M323.9 49.9h1M317.5 59.0h1M311.4 66.0h1M314.4 68.5h1M303.5 49.9h1M301.4 64.3h1M313.4 49.9h1M313.2 48.1h1M316.7 45.1h1M323.2 40.0h1M341.0 71.2h1M309.4 56.5h1M320.8 49.7h1M312.7 42.6h1M305.7 62.9h1M320.5 50.9h1M320.7 50.0h1M318.0 61.1h1M307.9 68.8h1M296.0 49.8h1M305.4 55.5h1M323.2 48.1h1M323.1 63.2h1M305.6 57.8h1M315.6 56.9h1M324.0 49.4h1M324.2 67.6h1M306.3 53.5h1M312.2 65.2h1M313.1 65.6h1M304.9 46.7h1M327.5 54.3h1M299.7 57.9h1M316.9 47.3h1M321.9 55.1h1M317.3 58.4h1M319.7 42.7h1M295.9 53.4h1M314.2 58.4h1M316.2 52.2h1M316.0 51.2h1M303.3 44.7h1M311.9 55.9h1M307.3 57.4h1M324.9 55.0h1M308.6 66.6h1M312.8 55.9h1M312.4 52.5h1M312.2 69.7h1M327.3 61.4h1M325.4 64.6h1M316.9 66.2h1M311.2 51.8h1M310.4 48.2h1M299.1 69.1h1M314.5 40.8h1M316.4 51.7h1M312.5 68.6h1M306.5 50.7h1M323.4 61.9h1M320.1 49.6h1M326.5 55.4h1M316.0 62.5h1M328.5 45.4h1M312.5 61.9h1M315.2 61.5h1M309.2 52.4h1M321.2 61.5h1M310.2 54.3h1M317.2 59.2h1M315.1 52.0h1M308.1 52.4h1M331.6 46.2h1M322.7 59.5h1M312.2 54.4h1M320.8 50.5h1M316.8 69.1h1M310.6 56.2h1M328.7 54.9h1M320.7 50.3h1M319.0 63.5h1M318.3 57.3h1M319.5 49.5h1M320.2 54.1h1M316.2 60.7h1M315.8 56.9h1M315.2 65.4h1M302.2 64.2h1M340.6 60.3h1M332.9 71.2h1M334.8 53.0h1M334.8 70.4h1M332.5 64.3h1M343.0 60.9h1M349.2 56.3h1M336.9 61.9h1M332.1 71.7h1M345.5 42.4h1M336.9 61.0h1M344.0 68.5h1M349.1 47.7h1M341.9 67.0h1M341.0 70.3h1M348.0 60.3h1" stroke="#000" stroke-width="1" fill="none"/>
<path d="M358.2 54.0h1M356.9 57.1h1M361.9 58.1h1M358.5 61.2h1M357.4 57.8h1M358.2 59.6h1M357.4 57.8h1M355.8 62.2h1M359.7 62.9h1M357.4 70.0h1M354.3 64.2h1M361.2 56.9h1M357.0 64.2h1M353.6 66.5h1M357.8 57.0h1M355.9 57.1h1M354.4 70.2h1M356.7 61.6h1M353.0 69.3h1M353.8 50.8h1M356.2 62.6h1M362.6 55.2h1M355.7 61.7h1M358.5 55.7h1M354.1 65.9h1M362.5 58.6h1M358.1 59.6h1M353.3 63.8h1M358.7 57.8h1M356.5 58.2h1M364.6 68.7h1M361.3 60.1h1M355.6 62.1h1M360.2 63.9h1M359.5 61.4h1M356.9 64.0h1M357.2 67.7h1M355.0 51.7h1M356.5 55.1h1M357.7 45.5h1M356.9 43.4h1M355.8 54.0h1M363.9 54.5h1M358.9 61.8h1M360.1 63.6h1M357.9 56.1h1M355.8 56.8h1M352.8 62.1h1M353.6 67.7h1M359.9 59.0h1M353.8 54.9h1M358.1 66.1h1M357.8 59.2h1M363.2 70.7h1M353.6 72.4h1M361.9 66.3h1M358.9 52.0h1M355.1 63.4h1M361.8 58.3h1M358.5 67.3h1M359.8 57.1h1M358.1 59.2h1M361.5 55.3h1M360.0 72.4h1M355.1 61.4h1M355.3 54.2h1M355.4 58.1h1M360.4 52.3h1M359.9 68.3h1M358.9 68.5h1M357.3 61.6h1M356.2 62.5h1M359.1 51.3h1M360.6 70.6h1M360.4 60.3h1M363.3 56.9h1M356.9 63.6h1M365.8 66.2h1M362.7 65.7h1M359.0 59.9h1M359.2 67.5h1M359.7 63.1h1M356.5 60.7h1M356.0 53.9h1M358.2 68.8h1M356.9 60.8h1M360.0 60.2h1M359.1 58.2h1M356.1 72.3h1M360.4 64.9h1M355.5 62.4h1M355.1 64.9h1M358.9 55.1h1M358.7 64.4h1M355.9 60.0h1M355.7 57.9h1M355.8 56.2h1M359.0 56.2h1M359.4 63.7h1M360.5 60.7h1M357.7 55.5h1M355.3 63.2h1M360.2 61.5h1M366.1 59.9h1M363.0 69.9h1M354.9 58.9h1M360.4 52.0h1M357.7 61.5h1M357.7 54.2h1M357.2 65.9h1M355.5 64.2h1M353.4 58.6h1M359.4 63.8h1M356.0 54.0h1M357.2 54.3h1M354.0 63.1h1M376.8 54.4h1M354.5 55.3h1" stroke="#000" stroke-width="1" fill="none"/>
<path d="M415 116.6V36.8" stroke="#585858" stroke-width="1.2" fill="none"/>
<path d="M500.5 116.6V36.8" stroke="#484848" stroke-width="1.2" fill="none"/>
<path d="M414.4 37.4H501.1" stroke="#484848" stroke-width="1.2" fill="none"/>
<path d="M414.4 116H501.1" stroke="#484848" stroke-width="1.2" fill="none"/>
<path d="M472.4 37.4V116M415 73.4H500.5" stroke="#5c5c5c" stroke-width="1.1" fill="none"/>
<text x="455.5" y="33.2" font-size="9.2" text-anchor="middle">SarSP-TN-DCs</text>
<text x="487.7" y="47.4" font-size="8.8" text-anchor="middle">2.3</text>
<text x="414.4" y="123.2" font-size="6.1" style="font-weight:normal;stroke-width:0" fill="#3a3a3a">10<tspan font-size="4.7" dy="-2.5">0</tspan></text>
<text transform="translate(412.2,116.8) rotate(-90)" font-size="6.1" style="font-weight:normal;stroke-width:0" fill="#3a3a3a">10<tspan font-size="4.7" dy="-2.5">0</tspan></text>
<text x="435.8" y="123.2" font-size="6.1" style="font-weight:normal;stroke-width:0" fill="#3a3a3a">10<tspan font-size="4.7" dy="-2.5">1</tspan></text>
<text transform="translate(412.2,97.1) rotate(-90)" font-size="6.1" style="font-weight:normal;stroke-width:0" fill="#3a3a3a">10<tspan font-size="4.7" dy="-2.5">1</tspan></text>
<text x="457.1" y="123.2" font-size="6.1" style="font-weight:normal;stroke-width:0" fill="#3a3a3a">10<tspan font-size="4.7" dy="-2.5">2</tspan></text>
<text transform="translate(412.2,77.5) rotate(-90)" font-size="6.1" style="font-weight:normal;stroke-width:0" fill="#3a3a3a">10<tspan font-size="4.7" dy="-2.5">2</tspan></text>
<text x="478.5" y="123.2" font-size="6.1" style="font-weight:normal;stroke-width:0" fill="#3a3a3a">10<tspan font-size="4.7" dy="-2.5">3</tspan></text>
<text transform="translate(412.2,57.9) rotate(-90)" font-size="6.1" style="font-weight:normal;stroke-width:0" fill="#3a3a3a">10<tspan font-size="4.7" dy="-2.5">3</tspan></text>
<text x="499.9" y="123.2" font-size="6.1" style="font-weight:normal;stroke-width:0" fill="#3a3a3a">10<tspan font-size="4.7" dy="-2.5">4</tspan></text>
<text transform="translate(412.2,38.2) rotate(-90)" font-size="6.1" style="font-weight:normal;stroke-width:0" fill="#3a3a3a">10<tspan font-size="4.7" dy="-2.5">4</tspan></text>
<path d="M444.8 59.5h1M433.6 49.9h1M418.8 45.0h1M435.3 64.1h1M444.2 47.6h1M451.7 55.8h1M425.0 51.2h1M447.1 51.4h1M444.8 62.0h1M442.5 46.4h1M449.1 65.0h1M430.4 43.7h1M422.5 43.3h1M435.1 48.0h1M426.8 60.9h1M439.1 58.9h1M423.8 43.4h1M425.9 44.2h1M450.4 66.0h1M418.0 54.7h1M441.8 62.5h1M440.9 53.8h1M422.7 56.0h1M431.0 56.8h1M448.6 64.1h1M446.6 47.2h1M430.1 67.3h1M452.9 54.1h1M446.9 53.7h1M446.4 52.0h1M421.2 60.3h1M427.8 47.3h1M418.5 56.1h1M450.3 59.1h1M431.5 58.5h1M448.4 43.8h1M432.2 44.7h1M433.9 63.2h1M417.2 45.2h1M428.3 45.3h1M440.1 56.5h1M439.1 69.2h1M422.0 48.2h1M427.5 44.0h1M444.1 42.2h1M443.7 70.7h1M444.4 64.4h1M440.9 64.9h1M434.9 58.3h1M417.0 49.4h1M422.7 51.1h1M438.5 53.8h1M424.4 59.7h1M443.2 45.6h1M444.0 56.7h1M423.9 64.7h1M435.8 68.3h1M417.0 54.3h1M433.5 53.1h1M426.5 47.9h1M427.1 58.1h1M442.5 69.9h1M447.8 62.8h1M430.8 60.7h1M425.4 60.4h1M451.4 51.9h1M448.4 62.2h1M446.6 42.7h1M432.6 40.1h1M440.1 43.4h1M427.4 64.4h1M432.7 67.4h1M442.0 46.5h1M439.5 64.4h1M441.8 44.9h1M438.4 48.5h1M431.0 69.4h1M447.5 48.9h1M431.7 41.0h1M434.1 70.5h1M431.8 72.5h1M425.7 52.5h1M445.5 52.3h1M429.5 45.5h1M440.8 71.3h1M437.2 45.3h1M436.7 69.2h1M442.9 72.1h1M438.1 47.8h1M445.3 43.4h1M417.0 41.7h1M442.0 50.4h1M420.7 58.6h1M444.7 46.3h1M444.5 44.7h1M434.9 48.4h1M417.0 42.4h1M450.6 64.8h1M437.5 72.8h1M445.3 62.8h1M441.6 70.2h1M419.1 46.5h1M420.4 50.9h1M447.3 67.9h1M444.7 56.8h1M446.6 46.0h1M435.1 68.3h1M437.5 68.4h1M428.4 65.0h1M416.5 45.1h1M442.8 71.2h1M427.4 53.1h1M429.2 62.1h1M445.2 70.4h1M442.8 58.6h1M438.5 60.5h1M428.4 60.6h1M448.4 45.5h1M435.7 52.6h1M419.5 55.7h1M419.7 59.4h1M426.2 50.8h1M431.3 49.9h1M420.4 56.7h1M449.2 53.8h1M424.7 54.5h1M423.1 40.3h1M440.0 43.8h1M424.6 47.1h1M442.3 59.7h1M446.9 60.1h1M422.3 56.3h1M424.3 54.1h1M436.2 53.3h1M444.7 71.1h1M436.3 61.0h1M440.0 57.9h1M444.0 43.7h1M446.0 43.1h1M428.6 47.4h1M442.0 70.0h1M434.8 59.1h1M423.3 41.9h1M435.5 60.1h1M443.7 65.0h1M424.7 59.4h1M452.1 55.9h1M438.9 55.1h1M425.0 66.0h1M435.6 51.8h1M434.9 68.0h1M446.4 43.4h1M430.1 42.3h1M424.3 62.9h1M420.5 54.4h1M445.6 63.7h1M446.0 46.8h1M444.5 64.0h1M443.5 47.5h1M446.0 46.0h1M433.7 70.3h1M442.1 56.8h1M429.4 62.8h1M446.9 62.6h1M424.5 63.2h1M434.6 41.6h1M447.5 67.7h1M423.2 48.4h1M444.1 68.3h1M427.6 61.6h1M425.1 40.5h1M424.6 63.1h1M433.1 51.6h1M418.6 44.9h1M427.9 40.0h1M428.6 57.6h1M444.3 68.3h1M418.8 42.6h1M419.5 51.6h1M450.2 57.5h1M447.3 42.5h1M443.2 72.6h1M435.7 56.0h1M439.5 55.8h1M446.9 56.3h1M433.6 63.9h1M440.1 65.0h1M423.1 63.2h1M449.1 65.2h1M425.3 58.3h1M441.4 72.3h1M445.8 49.0h1M449.6 56.7h1M443.3 45.6h1M450.3 63.2h1M444.6 67.0h1M436.1 46.8h1M433.9 67.3h1M427.4 41.3h1M441.1 41.3h1M420.5 44.7h1M442.0 44.1h1M435.5 41.6h1M444.2 53.6h1M428.0 57.0h1M448.6 49.9h1M425.5 41.9h1M427.0 66.0h1M429.1 58.8h1M440.4 44.5h1M442.6 59.7h1M416.6 45.2h1M439.5 72.6h1M434.1 66.6h1M422.9 44.1h1M421.8 45.8h1M437.9 57.6h1M420.2 54.7h1M432.2 68.3h1M428.7 46.4h1M448.5 50.3h1M440.2 68.6h1M427.9 57.2h1M421.2 59.1h1M448.8 59.2h1M449.5 64.5h1M432.7 39.8h1M445.5 46.9h1M439.1 44.1h1M436.3 61.9h1M434.0 60.1h1M416.6 46.2h1M425.5 41.4h1M433.9 42.8h1M437.6 67.6h1M424.4 45.4h1M438.7 62.9h1M445.7 50.8h1M427.7 44.2h1M447.7 52.0h1M430.0 68.5h1M424.4 41.5h1M442.7 41.0h1M427.3 58.9h1M425.3 52.6h1M426.3 55.2h1M440.2 66.2h1M436.2 70.2h1M443.9 66.2h1M427.8 44.8h1M427.1 39.6h1M428.7 63.9h1M445.3 66.8h1M449.1 54.6h1M442.0 59.0h1M437.1 62.4h1M429.6 53.0h1M430.8 53.6h1M431.6 72.2h1M426.6 45.7h1M438.2 57.5h1M427.5 45.3h1M449.9 44.9h1M432.1 66.6h1M424.6 54.6h1M441.1 64.7h1M437.0 63.9h1M445.8 59.0h1M423.5 55.9h1M440.0 51.2h1M426.6 64.5h1M444.9 45.6h1M435.6 65.0h1M428.7 48.4h1M428.1 42.0h1M438.0 52.3h1M433.3 51.4h1M427.2 61.0h1M433.9 48.2h1M448.4 56.3h1M416.8 52.9h1M444.9 53.9h1M425.7 50.1h1M443.2 67.5h1M447.8 48.0h1M432.1 43.6h1M423.9 55.7h1M430.6 41.7h1M430.6 71.7h1M446.2 50.3h1M427.5 61.3h1M433.6 42.0h1M430.0 60.1h1M431.2 65.6h1M442.9 42.8h1M429.4 40.5h1M428.5 50.3h1M446.8 51.9h1M426.4 64.5h1M421.7 44.6h1M441.6 51.8h1M434.5 58.9h1M428.9 62.2h1M433.8 62.2h1M427.4 50.3h1M444.4 57.7h1M437.7 41.4h1M423.8 46.3h1M423.3 60.1h1M442.1 71.5h1M451.3 50.0h1M423.3 50.9h1M448.3 44.1h1M435.7 44.2h1M427.8 45.3h1M427.0 46.3h1M433.8 53.8h1M441.6 47.9h1M426.3 41.8h1M441.6 45.9h1M437.8 66.2h1M439.6 52.6h1M444.1 48.6h1M438.5 63.4h1M441.0 45.2h1M421.2 48.6h1M420.1 54.4h1M449.1 53.6h1M445.4 71.6h1M427.2 62.7h1M419.4 49.5h1M433.0 64.4h1M435.1 59.0h1M440.7 69.4h1M436.6 41.0h1M428.9 63.8h1M431.7 63.9h1M417.7 42.7h1M418.0 57.7h1M450.3 51.2h1M434.1 62.1h1M433.1 42.1h1M439.3 59.1h1M435.8 60.0h1M419.4 54.1h1M434.8 43.2h1M435.0 69.0h1M440.8 69.4h1M420.1 56.2h1M422.8 62.1h1M440.3 53.9h1M421.3 52.3h1M420.6 44.6h1M418.3 48.6h1M437.0 49.6h1M423.2 52.3h1M427.7 44.7h1M429.2 46.4h1M426.6 42.2h1M420.3 49.3h1M441.5 54.0h1M428.9 54.7h1M427.2 62.7h1M447.7 55.1h1M437.7 60.7h1M437.5 46.1h1M449.7 46.5h1M425.8 45.6h1M448.9 67.4h1M426.9 56.0h1M437.6 41.5h1M446.4 43.5h1M444.3 47.8h1M443.3 45.4h1M433.5 54.5h1M449.3 64.9h1M425.5 63.9h1M444.0 61.9h1M446.1 64.5h1M436.3 50.4h1M416.0 42.6h1M442.5 61.8h1M432.6 44.1h1M420.7 56.3h1M443.0 59.2h1M443.0 64.3h1M441.1 61.8h1M441.7 70.8h1M419.4 59.3h1M449.3 53.4h1M440.2 55.5h1M418.4 42.6h1M434.3 68.4h1M438.6 62.6h1M436.7 40.9h1M435.6 42.8h1M420.2 52.4h1M433.7 69.3h1M436.7 72.4h1M424.4 52.3h1M444.7 55.7h1M434.2 66.5h1M427.8 53.0h1M428.5 47.6h1M443.1 60.6h1M427.2 69.9h1M423.5 68.1h1M423.8 45.9h1M434.0 46.1h1M451.9 48.3h1M451.9 55.1h1M429.4 70.8h1M422.9 42.2h1M429.1 51.8h1M423.5 62.4h1M442.4 66.7h1M443.6 46.6h1M443.5 58.8h1M444.6 68.0h1M451.8 52.3h1M441.1 64.5h1M437.6 66.8h1M426.0 62.0h1M442.1 70.6h1M449.8 61.0h1M423.3 63.1h1M421.2 60.0h1M436.4 70.1h1M449.3 69.5h1M452.3 53.3h1M425.4 64.1h1M432.1 47.1h1M426.8 59.2h1M418.0 59.3h1M427.8 42.6h1M438.9 66.6h1M420.9 57.8h1M421.8 48.5h1M448.9 59.8h1M443.4 69.5h1M447.5 68.2h1M445.5 43.5h1M432.3 70.0h1M452.0 51.0h1M430.1 48.0h1M427.3 60.8h1M424.5 59.0h1M440.2 70.0h1M435.2 49.1h1M431.0 44.2h1M426.4 41.1h1M425.7 52.9h1M420.9 56.9h1M448.5 60.1h1M436.0 59.0h1M429.0 42.9h1M417.6 53.6h1M435.2 52.7h1M448.3 43.8h1M423.3 45.1h1M446.4 63.1h1M437.2 61.6h1M423.2 66.9h1M451.0 48.3h1M428.4 51.2h1M424.6 42.3h1M444.9 68.9h1M448.7 61.9h1M430.7 63.5h1M441.6 55.3h1M431.5 58.3h1M420.6 49.2h1M445.3 68.4h1M445.0 50.8h1M427.4 55.8h1M450.0 53.3h1M426.2 47.6h1M426.7 50.9h1M440.0 73.8h1M440.0 45.0h1M429.0 43.7h1M448.6 46.8h1M441.4 53.9h1M444.4 65.3h1M427.6 61.4h1M426.1 50.3h1M427.1 49.9h1M441.9 55.9h1M427.9 51.9h1M440.0 55.6h1M421.4 62.5h1M429.0 62.1h1M417.2 44.7h1M440.6 69.0h1M431.5 54.9h1M436.9 40.9h1M442.1 69.9h1M446.3 54.3h1M443.9 61.0h1M432.8 46.7h1M435.9 44.4h1M437.7 51.0h1M431.0 64.4h1M436.8 65.2h1M433.6 53.1h1M440.4 62.5h1M449.0 63.0h1M447.4 62.5h1M443.0 44.9h1M443.0 69.4h1M432.2 51.5h1M445.0 66.2h1M452.4 63.0h1M430.5 48.7h1M450.9 48.9h1M434.7 44.5h1M443.7 60.4h1M446.4 46.1h1M437.9 41.5h1M420.2 52.8h1M419.6 52.8h1M432.8 69.7h1M440.4 55.8h1M419.1 49.2h1M422.6 58.7h1M421.8 44.1h1M435.6 43.6h1M443.3 71.9h1M434.5 65.7h1M424.0 67.6h1M449.0 56.8h1M430.5 71.5h1M428.3 72.6h1M418.6 48.7h1M434.8 65.2h1M422.7 59.8h1M441.3 57.8h1M425.9 43.6h1M435.3 40.2h1M448.0 47.0h1M437.7 66.4h1M424.5 42.6h1M425.3 52.8h1M446.0 61.3h1M428.0 46.5h1M429.4 63.6h1M433.5 66.8h1M421.8 52.6h1M449.2 65.4h1M447.4 53.2h1M426.7 54.5h1M437.8 72.9h1M436.6 64.6h1M430.4 66.3h1M432.5 51.9h1M423.5 41.0h1M436.2 60.7h1M443.2 51.7h1M442.0 70.2h1M433.9 71.0h1M423.8 58.9h1M447.8 56.0h1M429.4 68.9h1M439.4 67.7h1M447.6 60.9h1M436.3 46.3h1M438.6 45.1h1M453.0 52.1h1M419.1 54.7h1M425.3 66.1h1M431.2 65.1h1M450.0 52.0h1M437.3 48.5h1M416.8 45.6h1M431.7 61.1h1M442.3 60.0h1M429.3 39.4h1M426.9 65.6h1M442.7 70.9h1M446.9 42.2h1M435.6 61.9h1M437.9 43.5h1M426.8 70.9h1M448.5 57.5h1M437.8 64.3h1M435.6 70.6h1M430.4 69.7h1M426.6 43.7h1M433.7 51.8h1M419.4 49.2h1M425.9 52.6h1M436.6 44.9h1M428.8 48.3h1M440.1 59.1h1M430.3 40.1h1M434.4 43.0h1M437.0 44.1h1M451.4 66.9h1M422.0 57.9h1M443.3 69.7h1M428.0 43.4h1M426.4 66.7h1M434.2 52.6h1M449.0 50.3h1M438.7 49.1h1M427.1 67.5h1M447.7 47.4h1M426.0 49.9h1M417.7 47.5h1M433.9 60.2h1M447.4 57.2h1M427.0 67.4h1M427.7 69.4h1M445.1 56.4h1M431.1 49.0h1M443.9 44.8h1M430.4 67.4h1M429.3 64.8h1M428.2 43.6h1M443.1 42.8h1M438.7 69.1h1M428.9 69.1h1M426.0 67.6h1M426.0 53.0h1M442.0 61.6h1M434.4 43.4h1M424.0 56.9h1M432.6 50.2h1M421.7 62.9h1M434.9 43.6h1M430.6 42.4h1M448.6 63.7h1M418.5 52.9h1M436.5 68.7h1M437.5 54.5h1M446.5 56.5h1M430.4 42.6h1M424.8 57.7h1M430.8 62.5h1M447.8 48.6h1M433.3 40.3h1M431.4 72.5h1M433.2 48.7h1M446.4 68.3h1M438.9 52.8h1M423.3 51.6h1M427.7 67.3h1M420.2 45.8h1M426.2 56.8h1M450.9 52.0h1M431.5 60.8h1M426.8 62.3h1M433.4 42.0h1M443.4 53.2h1M436.5 41.4h1M450.9 66.5h1M447.5 67.1h1M426.5 49.5h1M430.8 50.8h1M436.0 41.7h1M439.1 44.5h1M451.2 44.8h1M446.2 58.0h1M439.9 50.1h1M424.5 57.2h1M428.2 64.7h1M429.7 62.3h1M440.6 44.0h1M424.7 48.8h1M419.1 42.7h1M449.7 50.2h1M435.3 62.4h1M440.4 49.1h1M444.8 69.6h1M424.0 43.7h1M430.8 49.9h1M444.8 53.3h1M429.3 43.0h1M438.2 44.5h1M430.1 46.6h1M433.1 43.6h1M445.4 69.0h1M429.8 58.2h1M442.0 51.0h1M421.9 41.9h1M444.2 67.6h1M447.1 59.7h1M442.9 48.3h1M439.6 51.8h1M427.8 44.7h1M436.8 61.5h1M439.0 61.1h1M441.6 53.4h1M438.5 61.3h1M431.4 42.8h1M432.1 41.1h1M430.1 48.7h1M427.7 58.8h1M439.5 63.7h1M427.1 60.7h1M431.9 63.0h1M424.0 48.3h1M431.0 69.9h1M452.6 61.0h1M428.2 46.8h1M451.4 57.6h1M425.6 42.5h1M436.4 42.0h1M428.5 55.4h1M432.9 68.3h1M433.8 40.8h1M450.6 58.0h1M431.0 43.7h1M446.5 43.5h1M445.3 46.3h1M449.5 67.5h1M438.1 65.2h1M423.0 42.3h1M451.7 50.7h1M448.7 52.1h1M432.6 44.8h1M421.8 61.6h1M444.8 45.8h1M431.2 71.4h1M425.5 44.8h1M437.3 40.6h1M448.9 57.3h1M433.0 60.5h1M432.5 42.4h1M448.9 63.6h1M434.9 59.1h1M438.5 43.5h1M448.3 46.7h1M452.7 59.4h1M424.2 54.8h1M439.2 54.3h1M425.7 68.1h1M449.3 49.4h1M449.1 48.1h1M436.3 70.8h1M422.4 43.0h1M434.9 39.8h1M424.3 59.3h1M432.3 61.6h1M445.9 55.9h1M443.8 55.7h1M427.5 49.3h1M445.8 49.4h1M443.8 60.8h1M432.5 69.0h1M427.4 42.1h1M431.1 50.1h1M440.3 48.8h1M448.6 60.6h1M436.9 60.5h1M417.0 46.8h1M420.4 47.4h1M445.7 60.6h1M435.4 58.4h1M432.9 44.3h1M438.2 48.2h1M424.9 50.0h1M428.7 59.0h1M439.5 42.2h1M446.0 56.8h1M452.3 55.5h1M451.5 67.8h1M443.4 70.8h1M449.2 60.8h1M417.9 50.2h1M443.2 45.2h1M436.1 40.4h1M437.4 46.2h1M441.0 60.6h1M442.5 69.4h1M442.0 54.1h1M430.5 63.3h1M446.4 61.0h1M437.4 64.6h1M434.0 49.4h1M430.9 43.4h1M421.8 45.5h1M439.0 55.1h1M450.8 56.6h1M439.5 61.9h1M431.6 62.5h1M420.7 45.6h1M424.6 64.2h1M421.2 45.8h1M442.1 45.7h1M421.9 48.7h1M420.0 57.1h1M437.7 67.2h1M431.9 58.5h1M435.2 41.0h1M437.2 71.2h1M421.1 39.6h1M435.9 69.9h1M423.3 60.5h1M448.3 47.6h1M428.6 56.5h1M447.2 67.2h1M417.3 45.6h1M429.3 58.4h1M425.9 40.4h1M426.6 54.3h1M428.0 70.7h1M426.9 50.7h1M451.9 61.1h1M436.6 61.3h1M444.4 48.5h1M436.6 64.5h1M437.2 66.5h1M437.3 65.4h1M448.3 61.6h1M429.9 51.4h1M434.3 73.2h1M439.7 70.3h1M442.2 40.6h1M444.7 66.1h1M446.1 49.1h1M449.0 62.1h1M431.2 58.4h1M428.5 63.2h1M446.5 42.8h1M440.1 40.4h1M434.0 47.7h1M432.7 53.9h1M429.2 49.9h1M431.7 43.0h1M442.2 52.6h1M441.3 60.8h1M440.6 46.3h1M421.8 41.8h1M417.8 55.7h1M452.0 59.4h1M449.3 48.1h1M446.4 60.4h1M430.1 67.2h1M418.9 56.1h1M431.7 62.1h1M418.2 50.8h1M427.1 67.8h1M422.3 44.9h1M431.0 60.4h1M427.6 44.2h1M435.0 70.1h1M446.5 52.8h1M420.7 51.1h1M419.6 48.4h1M419.7 40.4h1M432.8 44.1h1M429.6 41.1h1M438.1 51.4h1M430.1 61.0h1M429.3 48.4h1M429.0 51.8h1M440.9 41.0h1M426.8 66.2h1M425.7 59.8h1M420.8 53.2h1M435.1 51.5h1M441.1 45.3h1M433.1 56.5h1M426.0 61.3h1M440.7 46.7h1M439.5 54.1h1M438.5 57.7h1M424.9 57.2h1M443.7 66.6h1M439.9 53.3h1M442.7 50.3h1M427.7 63.5h1M419.3 44.6h1M439.3 54.4h1M452.6 56.0h1M419.8 56.4h1M426.6 54.0h1M416.9 46.3h1M423.7 62.9h1M417.5 46.4h1M425.8 70.0h1M422.1 50.5h1M420.5 52.6h1M440.7 59.7h1M429.6 45.9h1M447.9 66.6h1M431.5 61.5h1M450.7 49.6h1M442.8 50.5h1M428.1 41.5h1M434.6 72.2h1M436.0 45.6h1M437.3 48.7h1M445.1 54.7h1M450.9 60.7h1M419.2 42.3h1M444.7 51.6h1M444.6 66.6h1M450.1 48.9h1M443.5 62.4h1M436.1 60.4h1M439.2 50.6h1M437.9 64.1h1M436.1 66.6h1M445.1 70.7h1M433.5 63.1h1M422.2 52.8h1M438.2 71.6h1M441.4 61.9h1M428.9 64.6h1M432.0 59.4h1M421.4 47.8h1M453.3 56.4h1M430.9 72.2h1M439.8 50.4h1M439.0 41.0h1M436.0 46.0h1M438.3 47.1h1M443.4 45.4h1M440.9 45.3h1M431.3 46.8h1M437.5 58.5h1M450.7 48.7h1M449.5 62.2h1M421.2 43.4h1M431.2 53.3h1M422.9 46.2h1M446.1 61.9h1M423.1 47.1h1M438.5 47.5h1M427.0 45.5h1M442.0 59.4h1M449.3 68.2h1M426.2 65.5h1M424.9 68.1h1M441.1 47.4h1M432.8 61.7h1M449.2 59.1h1M432.6 45.2h1M420.0 45.4h1M441.3 55.8h1M447.8 45.9h1M435.4 41.4h1M428.6 47.1h1M434.4 55.3h1M440.8 59.7h1M426.5 52.8h1M423.5 54.9h1M421.0 45.9h1M440.1 51.8h1M444.0 40.7h1M432.0 56.6h1M435.5 64.2h1M431.9 58.0h1M428.7 56.5h1M451.1 68.1h1M426.4 58.7h1M451.7 50.9h1M439.2 49.6h1M429.2 46.8h1M443.7 50.7h1M436.1 67.1h1M453.2 62.8h1M434.1 71.1h1M417.0 46.5h1M431.3 71.4h1M437.3 51.7h1M419.2 56.3h1M451.5 62.8h1M450.1 48.9h1M418.3 54.0h1M443.6 71.9h1M431.8 62.9h1M422.3 53.5h1M447.6 69.7h1M440.4 50.5h1M444.8 65.3h1M425.4 51.8h1M435.2 68.1h1M445.0 61.4h1M443.6 54.0h1M446.5 69.1h1M441.6 57.4h1M424.4 49.2h1M442.4 44.2h1M438.3 58.0h1M446.8 60.5h1M437.5 70.9h1M439.8 64.0h1M450.0 59.8h1M426.8 56.9h1M438.9 62.1h1M440.1 57.7h1M448.5 45.1h1M450.4 54.5h1M425.6 41.4h1M429.4 65.6h1M444.3 51.5h1M424.1 52.1h1M430.5 58.9h1M420.4 42.1h1M417.5 43.0h1M446.8 49.7h1M438.3 48.6h1M445.0 57.9h1M422.2 43.5h1M451.1 55.2h1M448.3 68.2h1M430.9 65.8h1M420.8 46.6h1M421.3 48.0h1M427.8 68.1h1M446.3 58.1h1M435.5 46.3h1M449.3 50.1h1M435.6 62.5h1M431.7 63.3h1M416.5 46.0h1M428.1 52.8h1M448.5 48.1h1M429.4 40.8h1M423.4 65.5h1M425.8 42.4h1M431.5 63.1h1M434.4 59.2h1M441.2 66.7h1M418.2 48.3h1M421.1 54.0h1M443.0 46.9h1M449.0 55.6h1M441.0 45.8h1M440.2 58.7h1M430.4 45.1h1M426.4 44.6h1M446.7 67.6h1M426.5 70.3h1M433.7 59.7h1M436.9 40.7h1M428.5 67.4h1M433.9 67.5h1M418.1 53.5h1M448.7 62.7h1M443.1 59.1h1M425.0 59.9h1M434.6 57.9h1M448.5 55.7h1M452.7 59.9h1M448.9 65.8h1M431.1 63.1h1M443.1 44.4h1M444.4 50.6h1M422.4 61.1h1M440.5 63.9h1M439.1 65.5h1M428.6 70.4h1M428.9 43.2h1M427.2 49.5h1M437.2 50.9h1M451.4 52.1h1M430.0 62.4h1M443.8 69.0h1M435.9 46.2h1M436.6 56.6h1M434.5 56.4h1M418.8 42.4h1M454.1 56.3h1M425.4 44.2h1M428.9 40.2h1M418.6 41.0h1M446.8 54.9h1M425.0 56.7h1M437.9 44.7h1M449.3 63.5h1M427.6 54.6h1M442.1 51.0h1M422.5 60.9h1M444.8 48.8h1M439.1 52.3h1M448.8 58.3h1M432.2 70.9h1M427.2 58.0h1M416.4 45.8h1M442.1 63.0h1M434.2 64.5h1M423.2 58.0h1M424.9 39.5h1M436.5 70.3h1M448.4 50.7h1M445.2 45.3h1M427.4 54.2h1M437.8 48.2h1M428.2 68.5h1M436.2 65.2h1M452.4 54.0h1M448.9 66.5h1M435.7 48.7h1M448.0 55.5h1M418.1 54.1h1M422.2 54.3h1M448.8 63.5h1M435.2 53.0h1M420.3 58.1h1M421.9 42.0h1M422.2 59.6h1M428.8 61.8h1M425.0 59.6h1M453.1 62.1h1M446.7 62.0h1M430.4 61.3h1M431.1 63.8h1M447.3 59.4h1M429.3 66.5h1M428.2 63.3h1M421.7 45.0h1M430.9 49.1h1M418.6 57.4h1M432.5 58.8h1M426.9 55.3h1M437.4 65.4h1M439.0 60.8h1M443.1 64.6h1M438.3 69.3h1M433.3 42.4h1M449.4 60.7h1M437.5 71.5h1M437.1 50.9h1M419.8 52.5h1M432.5 49.9h1M421.4 55.4h1M421.0 41.6h1M444.0 52.3h1M442.5 47.2h1M448.8 49.3h1M419.6 46.8h1M446.5 65.2h1M435.6 52.2h1M438.1 66.8h1M418.5 56.0h1M450.2 50.4h1M449.2 46.1h1M435.5 58.1h1M419.9 58.8h1M448.6 59.4h1M435.4 67.2h1M425.6 50.6h1M419.0 43.8h1M425.4 64.1h1M438.4 51.5h1M433.5 60.2h1M435.2 68.7h1M450.3 53.8h1M426.4 39.9h1M438.1 66.6h1M416.6 49.1h1M450.2 53.7h1M427.6 44.9h1M421.7 43.3h1M436.3 40.4h1M449.1 57.0h1M442.2 47.2h1M433.1 45.9h1M440.6 64.5h1M446.1 42.3h1M437.3 48.2h1M434.7 52.5h1M444.9 58.1h1M434.4 40.3h1M424.3 57.0h1M435.2 53.9h1M430.9 48.2h1M428.3 39.5h1M433.7 41.2h1M426.6 61.4h1M428.3 52.6h1M432.2 62.5h1M448.1 55.0h1M423.1 47.6h1M440.6 46.7h1M422.2 50.3h1M421.7 43.0h1M448.5 57.7h1M432.4 61.9h1M440.4 68.5h1M429.8 55.9h1M432.1 68.0h1M442.1 48.1h1M437.5 52.8h1M439.6 41.9h1M433.5 47.6h1M432.0 59.3h1M427.7 50.2h1M434.2 44.4h1M440.0 68.6h1M434.5 65.1h1M424.5 41.2h1M423.9 44.7h1M435.6 54.8h1M435.6 58.3h1M452.4 64.7h1M431.1 61.8h1M419.9 52.2h1M433.9 67.1h1M447.2 50.8h1M421.1 61.9h1M438.5 56.9h1M442.3 43.7h1M451.9 61.1h1M436.6 58.6h1M426.5 52.8h1M435.5 58.6h1M449.1 49.4h1M444.5 44.7h1M427.2 59.0h1M418.1 48.4h1M449.5 51.7h1M426.3 66.4h1M430.8 55.2h1M439.3 43.7h1M419.3 42.9h1M443.6 55.5h1M432.2 51.5h1M437.2 63.3h1M448.3 52.5h1M417.5 51.2h1M441.0 44.7h1M418.8 45.7h1M437.3 40.0h1M430.8 60.5h1M423.5 48.7h1M424.7 62.4h1M444.6 60.0h1M446.3 61.7h1M443.9 48.8h1M445.0 67.2h1M420.4 53.2h1M434.7 51.8h1M442.5 54.8h1M449.7 69.9h1M425.3 44.8h1M423.3 44.4h1M424.5 45.0h1M431.4 48.5h1M427.6 51.5h1M426.1 47.6h1M432.4 49.4h1M425.9 44.9h1M426.4 43.7h1M423.2 47.3h1M418.6 43.4h1M425.4 47.5h1M423.3 50.6h1M428.5 51.5h1M419.4 51.9h1M419.6 43.2h1M425.0 49.3h1M421.8 47.8h1M422.7 46.3h1M424.9 43.6h1M420.8 47.7h1M424.2 51.5h1M432.3 47.6h1M425.1 46.7h1M423.5 52.5h1M425.6 46.7h1M421.9 47.4h1M426.6 53.0h1M428.5 54.0h1M422.6 47.5h1M422.8 46.8h1M426.7 45.5h1M418.0 44.6h1M430.1 45.6h1M421.8 50.2h1M417.2 52.8h1M425.1 44.5h1M420.4 46.7h1M419.2 48.4h1M420.7 47.7h1M424.7 44.7h1M426.5 42.9h1M417.3 41.2h1M424.5 47.6h1M420.9 48.2h1M423.6 47.2h1M427.0 49.4h1M425.9 46.1h1M429.3 46.2h1M420.8 39.3h1M424.9 52.6h1M426.4 43.2h1M422.2 49.9h1M421.4 52.4h1M418.6 47.7h1M418.9 49.1h1M432.1 47.5h1M422.2 49.1h1M425.1 46.6h1M425.4 42.1h1M423.1 46.5h1M425.4 41.1h1M426.7 48.5h1M421.7 47.6h1M429.6 50.5h1M425.4 44.6h1M423.1 42.5h1M423.8 47.9h1M429.6 45.7h1M431.1 45.6h1M422.5 43.5h1M426.5 44.2h1M422.5 49.2h1M420.8 46.5h1M424.6 47.5h1M426.5 53.4h1M432.6 50.9h1M421.2 47.2h1M420.4 50.7h1M416.6 44.4h1M419.3 43.9h1M427.2 47.5h1M426.9 48.2h1M432.0 47.5h1M428.6 53.4h1M424.2 42.4h1M427.4 49.8h1M430.5 48.6h1M418.4 49.5h1M417.1 45.3h1M426.2 44.0h1M426.9 46.1h1M417.4 46.4h1M423.2 42.3h1M420.0 48.9h1M426.2 43.9h1M430.4 41.7h1M428.5 48.1h1M429.9 46.8h1M423.2 42.3h1M422.2 45.0h1M429.0 44.5h1M422.5 43.8h1M425.3 42.6h1M427.4 46.5h1M420.5 48.4h1M416.1 44.8h1M429.7 49.7h1M424.4 47.7h1M428.3 51.4h1M426.8 47.9h1M418.4 45.0h1M425.9 47.8h1M422.6 47.3h1M423.8 42.4h1M422.7 43.9h1M424.8 48.7h1M426.2 44.3h1M421.7 49.4h1M427.6 42.1h1M432.7 47.3h1M424.3 45.3h1M430.9 43.2h1M424.4 44.9h1M423.3 44.5h1M421.4 53.3h1M430.1 49.4h1M424.4 45.6h1M421.7 52.5h1M429.2 47.0h1M423.8 46.2h1M426.0 49.8h1M417.8 47.9h1M421.6 46.3h1M423.5 44.5h1M427.3 45.8h1M427.0 44.9h1M425.8 43.2h1M422.7 44.9h1M430.3 44.5h1M424.1 42.8h1M424.0 43.8h1M419.1 49.6h1M428.3 50.1h1M428.6 47.2h1M429.8 44.1h1M422.2 45.1h1M430.2 47.0h1M426.5 49.9h1M417.0 44.6h1M425.6 42.9h1M422.9 43.6h1M427.3 46.3h1M421.0 48.1h1M419.7 51.3h1M423.6 40.4h1M434.7 44.6h1M423.2 47.2h1M422.4 42.4h1M421.2 44.8h1M418.5 41.1h1M421.3 45.5h1M427.7 49.6h1M419.3 52.4h1M422.2 44.6h1M423.0 46.4h1M427.1 51.0h1M424.5 49.6h1M423.3 48.8h1M432.8 48.8h1M431.1 46.1h1M427.3 43.6h1M421.3 45.7h1M425.0 49.4h1M416.9 46.8h1M417.5 49.3h1M421.3 49.2h1M424.3 47.8h1M426.5 48.7h1M423.3 41.9h1M418.8 45.0h1M424.1 48.4h1M424.1 45.4h1M427.1 43.1h1M428.5 46.7h1M427.1 43.0h1M430.0 50.3h1M426.9 48.6h1M425.0 46.2h1M428.9 48.6h1M426.4 45.5h1M418.5 51.3h1M427.9 44.3h1M427.3 51.2h1M421.0 47.0h1M428.4 47.4h1M420.1 44.6h1M433.1 45.9h1M415.7 48.7h1M426.4 46.7h1M422.2 45.9h1M423.5 53.4h1M427.6 43.8h1M427.8 45.1h1M428.5 42.9h1M429.9 40.7h1M420.7 47.6h1M424.2 47.9h1M423.7 44.1h1M425.2 42.8h1M416.7 48.7h1M429.5 44.2h1M427.0 52.9h1M428.3 51.7h1M426.9 48.4h1M422.1 46.2h1M421.3 48.9h1M422.3 41.6h1M418.5 49.5h1M421.4 52.1h1M423.5 41.7h1M425.3 45.7h1M422.3 49.6h1M432.2 47.0h1M422.4 45.7h1M425.6 51.7h1M425.7 47.9h1M418.8 50.1h1M426.1 45.5h1M417.5 47.2h1M436.6 65.3h1M434.8 66.6h1M437.8 63.0h1M443.6 66.5h1M446.4 69.6h1M436.8 61.1h1M446.9 64.4h1M438.9 58.6h1M436.1 62.1h1M443.1 62.8h1M443.5 65.6h1M439.4 61.5h1M442.4 69.5h1M443.7 69.8h1M444.0 66.8h1M440.2 72.7h1M439.1 59.4h1M454.8 55.3h1M444.4 61.3h1M437.9 59.5h1M443.6 59.2h1M444.6 61.0h1M445.0 65.6h1M435.2 68.5h1M440.6 62.0h1M444.1 67.0h1M445.9 63.1h1M447.6 63.9h1M442.8 69.4h1M438.2 63.3h1M451.0 64.9h1M437.5 64.1h1M442.2 59.5h1M447.0 67.2h1M441.6 73.7h1M448.2 63.5h1M444.5 67.6h1M445.4 69.4h1M447.8 64.6h1M443.3 64.4h1M436.0 62.3h1M446.5 58.0h1M445.1 61.5h1M443.2 66.2h1M443.5 66.9h1M439.9 59.6h1M438.8 70.5h1M445.1 56.3h1M438.5 58.9h1M445.7 64.2h1M440.5 58.7h1M440.1 61.9h1M437.8 65.7h1M440.0 59.0h1M442.7 58.0h1M442.6 66.2h1M443.0 70.1h1M445.0 63.2h1M440.5 68.5h1M442.4 56.0h1M439.5 60.0h1M446.1 68.2h1M446.9 66.1h1M444.7 63.1h1M449.5 58.5h1M439.9 55.8h1M439.2 67.0h1M442.0 67.3h1M452.6 63.8h1M445.0 65.7h1M444.6 63.0h1M442.6 61.1h1M447.0 60.4h1M444.7 60.6h1M448.0 59.8h1M446.0 69.1h1M449.2 65.0h1M435.0 63.5h1M441.1 69.3h1M442.7 66.0h1M436.5 63.9h1M440.1 64.4h1M447.0 65.8h1M445.0 60.4h1M447.9 64.1h1M438.5 59.0h1M448.2 60.8h1M440.2 62.8h1M446.1 60.7h1M440.8 65.0h1M447.3 65.0h1M443.9 71.8h1M441.2 64.1h1M441.5 65.7h1M443.8 61.0h1M450.6 63.3h1M439.3 63.8h1M447.2 68.0h1M444.2 64.4h1M444.7 62.8h1M445.9 60.5h1M446.8 63.9h1M442.1 67.4h1M441.5 57.8h1M440.0 68.9h1M446.4 63.7h1M448.2 58.4h1M447.8 62.4h1M444.7 67.5h1M443.2 67.7h1M440.1 59.9h1M444.9 62.4h1M441.3 69.9h1M440.0 66.8h1M439.6 71.3h1M437.3 68.1h1M444.0 62.3h1M442.6 64.7h1M448.6 60.8h1M441.8 64.8h1M454.2 68.1h1M444.2 66.3h1M441.1 61.5h1M446.2 58.1h1M441.3 64.1h1M447.9 53.4h1M439.2 62.9h1M437.4 69.7h1M453.1 63.4h1M445.4 55.7h1M444.6 62.9h1M440.4 60.8h1M440.0 66.9h1M441.4 56.0h1M444.1 63.9h1M444.0 60.4h1M435.3 67.7h1M448.0 65.1h1M445.4 59.7h1M447.3 66.8h1M437.2 62.1h1M441.4 68.3h1M440.2 65.6h1M442.4 67.0h1M434.6 62.3h1M446.3 61.9h1M440.2 61.4h1M431.0 64.0h1M445.0 54.0h1M438.3 70.1h1M446.9 63.7h1M434.5 63.7h1M440.2 56.9h1M436.1 58.0h1M444.6 58.5h1M437.2 66.2h1M437.0 59.7h1M439.0 59.6h1M438.7 66.4h1M447.0 59.7h1M440.3 55.2h1M440.4 51.4h1M442.5 62.9h1M442.7 70.6h1M442.8 66.0h1M440.2 65.5h1M440.5 58.5h1M440.3 70.3h1M442.1 60.6h1M441.8 68.4h1M447.6 73.7h1M437.0 66.2h1M436.8 56.8h1M442.1 64.0h1M443.0 60.4h1M446.3 62.9h1M444.5 67.3h1M443.9 70.9h1M450.7 68.1h1M446.6 62.8h1M438.9 65.3h1M444.0 60.3h1M438.6 64.7h1M442.8 62.3h1M440.0 67.5h1M440.1 67.4h1M438.3 64.7h1M442.3 63.5h1M443.8 62.1h1M444.3 69.1h1M442.9 66.8h1M441.8 67.9h1M443.5 61.5h1M447.2 66.0h1M438.4 63.8h1M435.7 67.1h1M440.7 67.0h1M446.6 65.9h1M447.0 55.6h1M448.3 61.2h1M436.4 55.8h1M446.2 60.8h1M448.8 67.8h1M445.5 70.9h1M449.0 62.9h1M446.8 54.6h1M442.3 68.9h1M448.1 67.6h1M444.5 62.0h1M436.4 54.0h1M445.5 68.2h1M438.2 62.7h1M441.5 64.0h1M433.9 54.3h1M439.7 59.6h1M445.5 69.6h1M441.1 58.8h1M434.6 65.9h1M437.6 62.5h1M448.0 63.6h1M441.2 66.0h1M445.3 59.5h1M450.6 63.7h1M444.1 63.4h1M443.8 59.6h1M450.0 64.4h1M433.7 61.8h1M444.3 57.5h1M444.1 70.1h1M445.5 66.9h1M444.8 62.0h1M441.2 65.2h1M438.3 56.3h1M448.9 62.5h1M446.1 64.0h1M435.4 64.9h1M438.8 57.9h1M446.2 62.4h1M445.1 64.4h1M441.0 58.4h1M441.5 71.8h1M441.6 60.8h1M444.3 54.9h1M441.1 61.4h1M441.7 68.9h1M437.6 56.0h1M447.5 71.2h1M438.6 67.0h1M441.3 63.7h1M442.3 64.5h1M440.9 69.6h1M436.9 58.3h1M439.0 61.6h1M440.7 60.7h1M432.8 65.8h1M443.2 60.5h1M452.9 60.8h1M439.1 61.6h1M439.0 64.3h1M442.8 66.6h1M439.5 59.5h1M437.1 62.8h1M441.7 63.0h1M439.6 65.7h1M439.6 69.8h1M445.3 60.4h1M443.0 59.2h1M444.1 61.5h1M447.6 62.9h1M444.7 63.8h1M435.4 63.7h1M443.2 52.9h1M438.0 60.9h1M450.7 60.2h1M438.9 52.3h1M450.8 50.6h1M445.9 72.1h1M424.1 61.1h1M436.3 62.5h1M431.1 68.8h1M430.5 49.6h1M437.5 54.8h1M425.8 61.7h1M442.5 67.5h1M453.4 61.6h1M453.2 58.3h1M438.9 58.7h1M442.0 58.6h1M429.8 63.8h1M440.3 43.6h1M432.4 72.1h1M435.4 50.5h1M437.4 58.7h1M441.6 62.7h1M435.1 49.4h1M450.2 50.1h1M432.9 57.5h1M445.3 56.0h1M439.4 60.4h1M433.9 57.1h1M447.1 62.6h1M439.4 61.3h1M430.6 52.1h1M444.5 56.5h1M429.6 60.5h1M437.7 50.1h1M426.0 46.3h1M440.3 54.7h1M425.7 47.6h1M432.4 49.8h1M440.6 72.0h1M428.2 62.5h1M446.6 58.7h1M434.0 70.6h1M433.5 70.9h1M420.4 56.7h1M431.7 50.2h1M433.5 42.2h1M439.6 51.1h1M446.0 64.1h1M436.1 61.5h1M436.5 73.2h1M433.2 59.5h1M439.6 51.8h1M454.8 49.0h1M442.4 65.3h1M431.0 51.4h1M443.6 59.4h1M443.7 56.1h1M433.8 62.9h1M440.8 60.5h1M423.9 73.4h1M445.0 56.2h1M423.8 48.0h1M442.6 66.4h1M432.5 63.2h1M436.7 53.0h1M433.0 54.4h1M441.5 49.0h1M440.8 57.9h1M453.4 50.6h1M431.7 49.9h1M435.5 58.1h1M439.7 66.4h1M432.7 60.9h1M429.0 61.5h1M434.0 47.4h1M437.1 61.1h1M455.5 56.2h1M420.8 60.7h1M435.4 56.6h1M423.4 49.2h1M456.1 59.1h1M434.6 45.5h1M444.2 63.8h1M419.0 71.8h1M440.8 65.9h1M440.0 44.2h1M442.8 51.6h1M449.3 59.7h1M442.9 54.6h1M453.2 56.6h1M438.1 60.4h1M426.3 48.4h1M469.9 70.7h1M466.9 56.8h1M457.6 69.9h1M465.5 50.9h1M464.5 54.6h1M459.0 65.1h1M464.0 53.0h1M453.3 55.6h1M459.7 55.1h1M458.7 45.2h1M458.2 70.0h1M457.1 44.1h1M470.5 62.4h1M456.7 58.2h1M465.7 63.6h1M461.1 44.1h1M459.9 56.1h1M465.9 69.4h1M463.5 61.5h1M464.9 54.6h1M467.5 42.5h1M463.3 55.0h1M457.2 57.1h1" stroke="#000" stroke-width="1" fill="none"/>
<path d="M482.7 61.7h1M482.8 49.5h1M481.4 67.7h1M480.9 72.7h1M482.2 60.8h1M478.1 57.4h1M478.5 67.7h1M482.2 66.6h1M476.7 48.7h1M480.6 60.7h1M482.1 62.6h1M477.8 52.8h1M485.2 59.6h1M482.4 55.8h1M480.9 60.8h1M478.2 66.9h1M484.5 69.6h1M478.5 60.4h1M486.1 61.0h1M486.8 56.6h1M479.9 59.7h1M484.5 70.5h1M488.8 60.9h1M483.1 53.8h1M481.0 57.8h1M484.2 60.3h1M480.5 64.1h1M482.6 55.6h1M477.1 67.0h1M479.5 63.9h1M482.3 59.0h1M481.4 63.5h1M480.5 69.9h1M478.1 55.8h1M478.2 60.0h1M482.3 64.6h1M480.8 62.0h1M482.7 55.4h1M479.9 59.0h1M479.4 68.3h1M478.2 62.4h1M483.8 58.7h1M479.5 58.4h1M478.1 57.3h1M484.6 55.9h1M478.6 69.2h1M483.2 59.9h1M485.0 67.1h1M485.4 60.6h1M474.8 64.5h1M479.0 62.7h1M481.8 66.3h1M480.4 70.9h1M478.8 62.2h1M486.2 53.7h1M478.0 64.9h1M475.3 71.7h1M478.8 65.0h1M477.1 60.7h1M479.7 62.5h1M478.5 51.7h1M478.2 56.8h1M474.8 64.6h1M487.6 69.9h1M479.7 71.4h1M476.8 60.6h1M478.3 58.4h1M477.0 56.5h1M482.7 56.2h1M478.2 57.9h1M476.5 54.2h1M482.3 68.1h1M480.0 51.0h1M487.9 69.7h1M475.3 67.1h1M482.0 63.0h1M479.0 59.4h1M484.5 69.7h1M479.3 66.3h1M483.6 66.1h1M477.1 56.0h1M482.9 66.9h1M475.8 58.4h1M476.7 70.6h1M477.4 60.0h1M485.0 56.0h1M479.6 60.2h1M482.4 71.0h1M482.5 55.0h1M473.5 61.4h1M483.2 60.3h1M479.0 69.3h1M482.1 56.5h1M481.6 58.6h1M479.0 57.5h1M482.5 62.5h1M476.6 56.0h1M475.7 57.9h1M483.8 54.4h1M478.2 63.7h1M480.1 61.0h1M482.0 63.1h1M483.8 51.5h1M478.0 66.9h1M478.1 61.9h1M484.4 70.1h1M479.1 70.8h1M482.2 57.8h1M481.5 61.9h1M480.0 58.2h1M481.5 61.5h1M480.8 63.9h1M479.3 60.7h1M486.8 59.6h1M483.8 70.1h1M478.7 52.3h1M479.1 61.5h1M476.4 56.7h1M480.4 57.5h1M477.6 59.8h1M480.7 62.6h1M478.0 54.9h1M476.4 67.4h1M477.7 59.4h1M480.9 59.5h1M482.3 55.3h1M481.4 62.4h1M480.2 53.7h1M482.8 57.8h1M481.6 65.6h1M487.9 66.9h1M481.6 54.5h1M480.5 51.9h1M480.7 62.8h1M481.4 60.9h1M479.4 57.9h1M476.0 59.9h1M485.0 57.8h1M475.3 58.8h1M477.4 52.7h1M483.1 61.3h1M484.8 59.6h1M480.8 57.9h1M478.7 57.1h1M480.1 56.5h1M480.5 64.6h1M479.5 59.7h1M477.2 55.1h1M480.1 62.7h1M478.4 61.1h1M481.1 59.4h1M480.3 67.9h1M478.2 67.3h1M485.3 64.0h1M476.7 67.5h1M477.1 71.5h1M485.3 59.9h1M481.4 62.5h1M481.0 56.1h1M477.7 60.4h1M474.8 55.6h1M478.4 62.8h1M484.9 61.9h1M481.0 58.2h1M475.7 55.5h1M477.2 63.6h1M483.3 50.8h1M478.9 69.8h1M484.8 62.2h1M481.8 55.5h1M480.8 59.0h1M485.4 57.8h1M483.1 59.5h1M481.9 66.8h1M477.7 63.3h1M489.0 55.9h1M480.8 53.3h1M478.7 61.6h1M481.2 65.5h1M481.3 52.1h1M482.1 64.3h1M485.1 62.6h1M481.6 63.4h1M483.2 72.7h1M481.6 63.4h1M481.5 68.7h1M484.2 61.9h1M474.1 69.8h1M480.7 61.6h1M476.2 62.5h1M475.2 64.0h1M482.6 61.5h1M478.8 52.3h1M480.1 64.6h1M481.2 64.2h1M477.6 70.4h1M482.5 58.4h1M479.4 65.0h1M478.3 70.6h1M478.8 63.1h1M484.6 56.1h1M480.1 54.7h1M482.2 58.0h1M478.3 63.2h1M479.1 54.9h1M476.7 65.2h1M481.8 55.0h1M480.5 64.2h1M479.3 65.8h1M485.7 57.1h1M479.5 69.7h1M482.8 59.3h1M478.9 61.0h1M483.8 63.8h1M481.9 58.7h1M482.9 64.9h1M487.3 69.4h1M477.7 63.2h1M476.5 64.3h1M484.3 67.3h1M475.1 61.7h1M477.9 66.1h1M480.4 60.6h1M481.6 55.3h1M480.7 63.2h1M478.5 57.8h1M479.3 60.8h1M481.8 61.2h1M475.3 63.0h1M481.1 49.6h1M480.2 55.4h1M481.9 55.9h1M476.8 67.9h1M478.2 54.9h1M483.0 68.8h1M485.2 57.3h1M476.1 66.5h1M481.4 64.9h1M481.9 58.6h1M476.4 66.8h1M482.7 62.6h1M484.1 60.5h1M483.2 65.5h1M486.1 58.6h1M488.1 63.4h1M477.1 59.9h1M481.3 65.0h1M475.2 66.0h1M478.3 54.0h1M477.5 71.8h1M482.0 61.1h1M475.6 58.3h1M482.3 61.8h1M478.9 69.5h1M483.6 59.8h1M482.9 67.2h1M477.4 60.1h1M477.7 62.2h1M474.3 61.0h1M476.6 62.8h1M482.2 72.7h1M484.0 57.9h1M482.0 63.2h1M477.7 59.7h1M481.5 61.9h1M475.3 61.6h1M476.8 62.2h1M482.7 64.6h1M480.3 53.5h1M480.7 60.5h1M477.7 64.3h1M485.4 68.9h1M484.4 54.3h1M484.1 65.4h1M483.3 66.6h1M484.9 62.1h1M479.9 58.2h1M481.6 63.3h1M476.8 63.2h1M479.0 53.5h1M486.4 62.2h1M484.3 59.9h1M483.5 63.9h1M479.2 55.1h1M478.1 56.5h1M482.4 58.9h1M477.3 63.2h1M478.6 57.6h1M481.2 50.8h1M487.8 54.0h1M476.1 66.5h1M481.6 65.3h1M477.7 60.3h1M483.2 64.6h1M483.3 56.7h1M477.5 59.0h1M486.7 59.5h1M476.5 68.0h1M476.5 61.8h1M478.9 55.7h1M484.4 60.1h1M481.0 58.1h1M483.8 66.8h1M483.7 64.6h1M476.2 63.7h1M476.0 57.9h1M482.6 66.3h1M480.1 64.8h1M482.5 52.5h1M483.6 60.8h1M483.3 63.3h1M483.1 62.4h1M481.6 62.6h1M480.5 63.4h1M486.9 66.5h1M482.4 66.3h1M484.2 62.2h1M486.3 56.0h1M482.2 49.1h1M482.1 55.6h1M479.2 59.7h1M475.9 63.6h1M480.1 72.5h1M481.3 65.6h1M476.9 54.2h1M485.1 64.6h1M483.4 57.7h1M483.5 56.2h1M479.4 59.1h1M485.7 66.5h1M488.6 60.2h1M476.7 65.3h1M486.9 60.9h1M482.1 58.6h1M483.3 61.7h1M475.6 71.1h1M483.4 61.2h1M480.4 67.6h1M480.1 69.2h1M479.6 69.7h1M479.8 62.8h1M479.6 66.7h1M480.8 63.6h1M484.1 54.3h1M478.9 58.2h1M488.3 59.1h1M478.4 71.6h1M480.8 55.6h1M481.6 56.0h1M479.7 64.8h1M478.9 64.6h1M485.2 55.1h1M477.0 44.1h1M477.0 70.2h1M474.3 59.2h1M480.3 63.5h1M477.1 58.0h1M479.5 55.7h1M484.6 58.4h1M485.1 68.5h1M483.7 65.7h1M482.5 56.7h1M480.0 59.2h1M481.8 61.3h1M480.2 66.7h1M476.1 68.9h1M486.2 56.0h1M478.2 61.1h1M476.7 57.1h1M480.1 56.5h1M485.4 66.0h1M480.9 61.2h1M477.9 64.0h1M479.5 67.7h1M486.5 65.7h1M476.0 72.7h1M476.9 67.5h1M474.7 62.4h1M481.5 58.7h1M479.1 62.7h1M481.8 66.2h1M482.2 63.0h1M479.3 55.9h1M483.3 59.6h1M480.4 56.5h1M480.2 72.7h1M483.5 66.9h1M481.8 54.9h1M474.3 60.7h1M484.7 63.6h1M478.5 60.1h1M478.3 47.2h1M482.1 69.1h1M484.6 56.7h1M479.5 67.8h1M483.3 67.1h1M476.1 59.2h1M474.9 60.4h1M482.1 59.9h1M478.8 61.0h1M480.3 60.2h1M484.5 71.4h1M475.2 66.7h1M481.2 50.9h1M495.6 62.9h1M482.5 56.4h1M485.8 62.6h1M474.1 68.2h1M486.8 63.3h1" stroke="#000" stroke-width="1" fill="none"/>
<path d="M297 231.0V151.3" stroke="#747474" stroke-width="1.2" fill="none"/>
<path d="M380.7 231.0V151.3" stroke="#606060" stroke-width="1.2" fill="none"/>
<path d="M296.4 151.9H381.3" stroke="#606060" stroke-width="1.2" fill="none"/>
<path d="M296.4 230.4H381.3" stroke="#7a7a7a" stroke-width="1.2" fill="none"/>
<path d="M353.1 151.9V230.4M297 188.1H380.7" stroke="#666" stroke-width="1.1" fill="none"/>
<text x="339.8" y="145.6" font-size="9.2" text-anchor="middle">TN-DCs + MR1 mAb</text>
<text x="366.6" y="162.4" font-size="8.8" text-anchor="middle">0.3</text>
<text x="297.0" y="236.4" font-size="6.1" style="font-weight:normal;stroke-width:0" fill="#3a3a3a">10<tspan font-size="4.7" dy="-2.5">0</tspan></text>
<text transform="translate(294.2,230.2) rotate(-90)" font-size="6.1" style="font-weight:normal;stroke-width:0" fill="#3a3a3a">10<tspan font-size="4.7" dy="-2.5">0</tspan></text>
<text x="317.9" y="236.4" font-size="6.1" style="font-weight:normal;stroke-width:0" fill="#3a3a3a">10<tspan font-size="4.7" dy="-2.5">1</tspan></text>
<text transform="translate(294.2,210.6) rotate(-90)" font-size="6.1" style="font-weight:normal;stroke-width:0" fill="#3a3a3a">10<tspan font-size="4.7" dy="-2.5">1</tspan></text>
<text x="338.9" y="236.4" font-size="6.1" style="font-weight:normal;stroke-width:0" fill="#3a3a3a">10<tspan font-size="4.7" dy="-2.5">2</tspan></text>
<text transform="translate(294.2,191.0) rotate(-90)" font-size="6.1" style="font-weight:normal;stroke-width:0" fill="#3a3a3a">10<tspan font-size="4.7" dy="-2.5">2</tspan></text>
<text x="359.8" y="236.4" font-size="6.1" style="font-weight:normal;stroke-width:0" fill="#3a3a3a">10<tspan font-size="4.7" dy="-2.5">3</tspan></text>
<text transform="translate(294.2,171.3) rotate(-90)" font-size="6.1" style="font-weight:normal;stroke-width:0" fill="#3a3a3a">10<tspan font-size="4.7" dy="-2.5">3</tspan></text>
<text x="380.7" y="236.4" font-size="6.1" style="font-weight:normal;stroke-width:0" fill="#3a3a3a">10<tspan font-size="4.7" dy="-2.5">4</tspan></text>
<text transform="translate(294.2,151.7) rotate(-90)" font-size="6.1" style="font-weight:normal;stroke-width:0" fill="#3a3a3a">10<tspan font-size="4.7" dy="-2.5">4</tspan></text>
<path d="M307.3 165.8h1M312.2 176.9h1M327.3 186.1h1M314.8 167.7h1M313.3 166.8h1M324.7 186.6h1M327.6 168.0h1M315.0 174.9h1M302.4 170.1h1M301.8 162.5h1M304.9 169.1h1M323.5 180.2h1M328.3 177.4h1M330.0 181.0h1M307.0 177.0h1M312.6 179.5h1M305.9 158.3h1M319.9 166.6h1M313.5 170.9h1M321.4 181.0h1M326.5 178.1h1M326.7 167.8h1M303.9 174.6h1M322.2 167.8h1M317.3 172.2h1M324.8 181.4h1M312.8 163.9h1M305.7 168.7h1M311.6 163.8h1M311.6 166.1h1M331.1 180.1h1M322.6 188.7h1M305.0 157.2h1M329.5 170.7h1M313.0 170.2h1M326.8 177.2h1M309.4 181.9h1M315.8 177.1h1M306.0 171.1h1M305.7 165.7h1M325.2 168.9h1M303.3 157.8h1M301.9 160.7h1M318.8 180.0h1M301.7 175.9h1M305.1 174.2h1M307.0 164.0h1M323.4 181.5h1M326.4 185.7h1M319.6 173.2h1M298.5 165.5h1M324.5 185.2h1M323.3 182.9h1M327.8 178.5h1M318.3 171.7h1M302.6 167.4h1M312.9 167.3h1M300.5 164.1h1M307.2 159.4h1M317.5 188.0h1M307.3 180.2h1M305.9 162.9h1M318.2 166.4h1M309.8 185.0h1M302.3 165.7h1M325.2 188.4h1M324.1 169.0h1M308.8 175.3h1M321.6 164.5h1M301.8 167.1h1M310.8 158.0h1M303.2 173.8h1M301.4 165.7h1M320.9 160.8h1M315.5 159.8h1M312.3 176.0h1M322.9 172.1h1M309.7 172.4h1M322.6 180.9h1M308.1 174.6h1M312.0 173.6h1M309.1 165.9h1M327.9 172.6h1M323.0 183.3h1M313.2 159.6h1M303.9 178.1h1M325.3 164.9h1M305.7 180.0h1M311.8 180.1h1M323.0 183.5h1M310.0 158.8h1M316.9 180.4h1M302.7 161.5h1M302.7 160.2h1M329.4 175.9h1M314.8 169.3h1M315.6 172.8h1M316.1 173.6h1M312.8 159.4h1M328.7 171.4h1M329.5 184.4h1M315.1 184.1h1M308.3 177.0h1M326.3 186.1h1M316.8 162.6h1M321.7 162.6h1M310.4 179.1h1M331.9 182.5h1M319.9 171.8h1M315.5 166.6h1M325.0 185.1h1M308.4 169.6h1M308.5 174.5h1M306.7 180.9h1M330.8 177.0h1M304.4 165.6h1M320.2 167.7h1M303.6 161.9h1M331.4 177.8h1M302.5 157.9h1M329.3 181.3h1M329.4 179.9h1M312.0 159.1h1M311.3 162.2h1M318.5 178.2h1M323.3 168.4h1M298.0 169.5h1M306.7 177.5h1M327.7 179.5h1M330.7 180.4h1M319.3 174.8h1M307.5 180.0h1M315.9 187.6h1M317.7 183.3h1M323.1 178.9h1M305.6 178.3h1M309.8 178.7h1M315.4 173.4h1M325.5 169.0h1M316.7 178.6h1M314.3 178.1h1M307.9 171.6h1M325.2 176.0h1M321.8 181.2h1M319.8 182.0h1M304.4 171.0h1M313.2 158.6h1M319.6 163.9h1M327.4 173.5h1M330.1 179.8h1M325.1 165.6h1M309.2 164.6h1M309.1 180.0h1M314.5 177.7h1M298.9 163.6h1M303.5 159.6h1M302.8 172.8h1M324.2 166.9h1M321.3 175.7h1M331.2 179.7h1M322.4 175.3h1M311.3 183.1h1M311.1 173.8h1M299.4 157.8h1M305.9 176.6h1M305.8 179.2h1M320.7 164.1h1M321.4 178.8h1M321.5 184.1h1M312.4 169.9h1M301.3 177.9h1M310.9 162.6h1M326.0 173.8h1M310.5 165.8h1M328.3 169.3h1M323.6 164.9h1M305.4 176.6h1M311.7 174.1h1M303.9 175.7h1M298.7 160.8h1M301.4 172.0h1M326.5 183.0h1M310.8 175.7h1M331.4 179.6h1M328.2 170.7h1M306.4 177.7h1M306.8 161.6h1M304.8 169.6h1M303.4 170.5h1M299.1 167.4h1M318.8 161.8h1M319.6 186.3h1M317.9 170.4h1M319.0 180.1h1M321.4 168.8h1M310.5 161.4h1M331.2 178.2h1M331.7 175.0h1M328.3 180.9h1M306.6 183.3h1M306.3 163.7h1M328.1 179.7h1M327.7 176.2h1M313.4 183.5h1M314.3 166.0h1M307.5 174.2h1M309.9 160.8h1M332.6 175.7h1M323.3 182.7h1M327.6 186.8h1M313.9 164.1h1M324.2 169.4h1M313.2 176.7h1M306.4 173.5h1M310.6 168.1h1M331.0 171.3h1M298.5 165.9h1M327.9 171.6h1M318.0 162.2h1M312.1 174.6h1M312.0 184.2h1M308.2 174.8h1M326.6 185.7h1M312.4 177.2h1M311.5 159.4h1M312.0 163.4h1M314.9 168.0h1M309.6 172.0h1M310.5 157.7h1M313.1 172.5h1M302.4 173.6h1M323.2 186.9h1M321.1 179.4h1M326.3 172.2h1M305.1 163.1h1M300.0 168.9h1M299.5 171.3h1M317.8 174.5h1M318.5 165.6h1M314.7 187.2h1M330.1 180.0h1M328.3 175.0h1M317.3 181.3h1M324.2 179.2h1M308.8 168.0h1M315.2 185.8h1M324.5 167.0h1M313.3 180.3h1M306.3 175.6h1M310.9 181.5h1M323.1 183.6h1M322.2 184.6h1M307.4 172.5h1M326.2 187.8h1M304.8 166.3h1M313.4 174.0h1M311.3 163.9h1M307.1 163.6h1M331.7 182.3h1M312.3 172.8h1M329.3 171.8h1M326.5 173.1h1M312.7 186.4h1M324.9 173.7h1M317.6 177.9h1M311.9 185.6h1M318.5 161.5h1M303.4 176.5h1M311.5 166.8h1M330.7 176.2h1M327.9 183.5h1M305.2 172.3h1M315.7 182.1h1M300.9 164.5h1M317.7 160.5h1M313.6 161.3h1M301.2 170.4h1M305.6 159.2h1M329.6 183.3h1M306.8 159.8h1M325.6 166.8h1M302.9 169.6h1M308.6 171.0h1M311.6 163.1h1M301.8 177.4h1M314.2 182.7h1M322.1 165.3h1M306.8 179.2h1M309.5 165.6h1M304.3 165.7h1M314.7 173.6h1M317.8 180.0h1M301.2 168.2h1M307.4 159.6h1M306.2 176.5h1M303.8 177.0h1M330.3 175.0h1M330.5 171.2h1M307.3 160.5h1M325.8 181.8h1M310.9 183.4h1M303.2 171.9h1M331.6 180.4h1M313.3 171.7h1M310.7 185.7h1M320.1 161.9h1M308.0 173.8h1M304.6 158.6h1M316.3 172.5h1M311.8 171.8h1M302.1 176.0h1M310.0 179.9h1M308.3 174.9h1M312.9 164.6h1M323.4 181.2h1M322.5 170.8h1M330.9 173.2h1M322.6 161.6h1M318.6 185.6h1M310.8 168.2h1M316.1 175.4h1M323.2 182.5h1M324.8 164.9h1M325.0 166.2h1M307.1 181.3h1M324.7 163.2h1M307.2 181.4h1M304.0 157.7h1M315.3 163.8h1M320.7 178.0h1M324.9 177.3h1M310.2 166.2h1M321.6 187.6h1M302.1 160.2h1M312.9 174.9h1M321.9 187.8h1M300.1 172.9h1M309.6 180.6h1M327.9 185.4h1M319.1 182.0h1M328.8 175.4h1M299.3 164.8h1M321.4 173.6h1M308.4 168.7h1M329.1 170.3h1M303.9 162.0h1M322.4 166.5h1M325.0 187.7h1M324.7 178.9h1M321.3 165.7h1M312.5 169.3h1M323.1 177.0h1M323.9 162.9h1M312.2 177.7h1M309.9 164.4h1M327.7 166.6h1M313.6 179.3h1M316.4 163.0h1M321.7 182.9h1M324.5 180.7h1M308.9 183.0h1M306.5 165.6h1M307.1 165.1h1M299.7 173.9h1M325.3 185.7h1M304.7 161.5h1M315.4 183.1h1M329.9 176.9h1M299.3 163.4h1M310.9 165.7h1M326.7 170.1h1M301.7 163.6h1M304.1 166.9h1M325.2 168.4h1M307.3 179.6h1M307.0 183.7h1M324.9 181.3h1M311.8 173.0h1M308.4 167.6h1M318.4 173.7h1M322.3 178.2h1M326.1 170.5h1M330.3 186.8h1M302.8 175.9h1M330.2 169.5h1M319.2 183.5h1M327.7 183.4h1M303.5 170.0h1M304.1 163.2h1M330.6 175.9h1M317.9 169.3h1M322.8 188.7h1M302.3 161.9h1M300.4 172.6h1M310.8 174.4h1M297.9 164.3h1M311.8 167.3h1M302.7 161.6h1M313.0 184.1h1M313.3 157.8h1M313.2 164.9h1M331.3 171.5h1M310.1 182.0h1M322.0 183.4h1M313.4 179.7h1M302.2 169.0h1M305.6 160.2h1M326.6 177.5h1M314.3 177.7h1M312.6 161.2h1M305.2 157.4h1M317.7 165.9h1M318.4 170.8h1M321.7 173.2h1M330.3 184.2h1M318.5 171.1h1M301.9 171.5h1M322.1 188.0h1M318.4 177.2h1M327.9 180.9h1M304.2 177.6h1M312.0 159.9h1M307.8 182.1h1M330.6 183.7h1M307.1 170.8h1M327.4 172.6h1M313.6 171.1h1M325.7 177.7h1M309.8 170.2h1M317.2 165.5h1M305.6 173.0h1M311.6 164.1h1M328.9 185.4h1M314.2 167.9h1M316.5 178.9h1M327.1 171.8h1M302.1 164.3h1M329.1 185.2h1M317.1 174.1h1M321.5 180.2h1M331.1 174.0h1M303.2 167.7h1M322.7 181.8h1M321.7 165.2h1M306.1 169.3h1M305.6 168.7h1M312.8 170.4h1M310.1 182.4h1M310.3 158.1h1M329.8 181.2h1M330.9 180.0h1M306.3 163.9h1M302.9 159.8h1M315.2 175.9h1M315.1 165.0h1M299.3 161.3h1M320.3 171.0h1M304.2 162.8h1M302.0 164.2h1M311.2 173.5h1M318.0 180.5h1M312.2 158.9h1M300.3 160.5h1M298.1 168.1h1M325.8 178.2h1M300.3 173.2h1M314.0 174.1h1M305.4 156.8h1M312.7 178.1h1M301.4 159.5h1M300.9 177.6h1M318.1 172.9h1M299.7 160.0h1M310.5 174.5h1M321.9 173.4h1M317.2 161.1h1M309.6 185.4h1M317.6 164.6h1M304.2 168.8h1M304.1 163.8h1M329.5 177.5h1M325.0 178.2h1M327.5 166.2h1M323.7 163.8h1M302.3 167.6h1M309.5 176.1h1M301.3 159.9h1M305.4 165.8h1M310.3 163.0h1M317.8 187.4h1M318.1 188.1h1M319.4 182.6h1M326.4 181.4h1M303.8 176.4h1M317.4 167.8h1M326.8 165.7h1M319.6 163.6h1M329.8 177.7h1M305.4 176.2h1M302.7 160.9h1M314.3 160.1h1M302.6 162.1h1M314.2 176.5h1M321.9 183.1h1M305.9 159.2h1M328.3 184.7h1M312.5 176.4h1M306.0 167.3h1M319.6 181.9h1M312.3 164.1h1M303.2 174.8h1M329.2 173.4h1M327.4 180.1h1M327.3 170.8h1M302.3 180.6h1M322.9 172.3h1M312.2 168.7h1M304.0 180.0h1M313.2 183.9h1M307.4 181.6h1M325.8 174.4h1M301.0 165.4h1M324.7 167.2h1M303.8 178.6h1M310.3 171.7h1M312.4 166.9h1M315.1 159.4h1M320.2 166.7h1M324.4 170.1h1M321.5 162.4h1M310.0 157.9h1M300.7 171.1h1M312.0 184.0h1M319.5 172.9h1M331.7 177.2h1M326.3 173.7h1M309.8 173.7h1M320.6 168.1h1M308.0 162.1h1M318.9 183.4h1M303.2 177.5h1M331.8 176.8h1M307.6 169.6h1M324.6 182.6h1M323.2 174.4h1M324.1 182.6h1M321.5 180.0h1M318.3 176.2h1M329.0 185.2h1M326.1 162.0h1M299.6 161.1h1M315.0 174.7h1M316.2 185.7h1M312.8 186.8h1M307.1 178.3h1M320.9 182.5h1M316.5 170.5h1M327.8 166.8h1M321.4 172.9h1M313.5 171.6h1M329.4 184.7h1M313.0 158.7h1M317.1 185.0h1M323.7 184.7h1M318.6 170.6h1M306.4 161.6h1M324.5 176.2h1M321.6 180.2h1M308.0 159.6h1M307.0 185.1h1M304.0 178.2h1M311.0 178.2h1M298.5 169.2h1M311.1 170.8h1M318.7 183.5h1M317.6 166.7h1M318.8 167.9h1M305.8 181.1h1M304.7 172.1h1M315.0 173.3h1M322.5 167.0h1M300.8 162.6h1M301.4 159.7h1M326.1 172.8h1M321.4 181.0h1M326.2 163.1h1M299.5 165.6h1M310.4 178.3h1M322.9 176.6h1M308.3 180.8h1M304.9 180.7h1M331.8 171.7h1M301.0 167.5h1M324.6 165.4h1M317.1 186.7h1M327.1 185.6h1M299.0 159.6h1M306.0 180.0h1M306.5 179.7h1M325.8 174.0h1M306.1 171.0h1M304.5 180.0h1M330.0 183.1h1M300.6 165.5h1M316.5 179.6h1M320.5 170.0h1M314.5 183.5h1M312.5 186.2h1M303.0 175.9h1M314.3 185.3h1M323.0 171.2h1M331.1 184.5h1M327.7 180.5h1M303.8 176.0h1M323.4 175.9h1M316.7 162.5h1M315.1 162.1h1M314.3 185.9h1M317.0 164.5h1M323.2 178.9h1M312.0 183.1h1M320.9 171.1h1M321.5 167.0h1M318.0 168.4h1M327.0 180.5h1M320.9 161.4h1M311.1 186.2h1M313.2 161.6h1M325.6 166.7h1M318.9 169.4h1M321.1 172.2h1M307.2 183.9h1M298.5 162.3h1M305.2 165.7h1M312.1 165.4h1M301.3 176.8h1M305.3 184.0h1M319.9 174.4h1M324.2 165.3h1M309.8 176.5h1M325.2 173.1h1M323.4 164.9h1M321.7 185.2h1M312.2 170.7h1M299.4 162.8h1M325.0 173.0h1M310.8 178.9h1M306.4 179.1h1M308.6 162.1h1M299.8 159.4h1M310.4 172.3h1M329.8 177.3h1M300.9 158.8h1M308.3 170.2h1M309.8 179.1h1M308.3 183.6h1M312.5 186.8h1M320.8 161.5h1M310.2 184.3h1M319.1 181.9h1M326.7 184.1h1M308.5 175.9h1M320.3 182.0h1M318.6 161.8h1M314.6 183.0h1M301.0 157.2h1M302.1 173.8h1M310.5 178.8h1M311.4 178.7h1M299.3 169.0h1M308.6 160.1h1M319.9 179.5h1M306.2 170.9h1M305.2 162.9h1M298.5 162.1h1M327.5 184.1h1M323.0 174.3h1M316.1 182.3h1M319.5 181.5h1M316.9 166.1h1M328.0 171.2h1M300.0 158.8h1M324.0 187.6h1M322.8 178.6h1M315.6 166.9h1M323.5 176.5h1M318.7 161.3h1M319.3 168.6h1M311.3 166.2h1M300.3 172.3h1M298.6 173.9h1M300.2 157.7h1M319.9 166.0h1M304.7 175.5h1M301.2 163.3h1M317.9 171.7h1M321.2 166.1h1M323.3 175.8h1M321.9 164.6h1M320.4 177.5h1M304.6 168.9h1M304.9 157.9h1M329.1 185.9h1M331.5 179.5h1M321.5 187.6h1M319.6 175.2h1M311.8 169.0h1M330.0 181.9h1M325.9 179.5h1M318.9 160.2h1M309.7 170.5h1M330.7 183.0h1M303.7 162.9h1M316.0 163.3h1M300.9 168.4h1M305.1 179.9h1M305.1 161.3h1M322.0 179.8h1M328.0 177.8h1M305.4 183.3h1M322.8 187.7h1M301.8 175.9h1M328.6 177.0h1M327.8 174.8h1M319.9 167.0h1M318.5 175.3h1M322.7 173.0h1M299.1 160.0h1M299.6 162.6h1M327.0 165.7h1M302.6 177.0h1M301.6 171.2h1M330.2 183.8h1M316.7 181.9h1M314.3 160.1h1M311.9 183.1h1M305.0 169.4h1M307.1 176.6h1M299.3 170.2h1M320.3 178.4h1M324.3 187.0h1M316.2 160.3h1M316.4 186.5h1M322.7 162.1h1M330.0 180.3h1M319.1 165.2h1M316.8 160.7h1M308.5 182.9h1M315.3 181.7h1M319.0 183.7h1M303.7 177.4h1M323.4 162.2h1M299.4 169.5h1M323.2 186.1h1M307.4 168.2h1M313.1 161.1h1M326.8 174.0h1M307.8 177.5h1M329.1 180.4h1M330.8 177.8h1M327.0 182.1h1M326.7 165.3h1M305.9 160.1h1M315.0 173.4h1M309.8 167.0h1M312.2 158.8h1M318.4 160.4h1M313.3 182.5h1M319.1 164.0h1M312.0 176.1h1M316.8 158.6h1M302.5 159.2h1M326.8 179.1h1M311.2 171.1h1M307.9 178.5h1M331.1 167.2h1M308.1 172.1h1M299.2 164.5h1M320.5 165.5h1M303.7 177.5h1M312.6 170.8h1M327.9 182.8h1M327.5 178.9h1M307.1 180.1h1M307.9 182.9h1M318.3 162.2h1M316.5 186.3h1M297.7 165.6h1M306.6 181.0h1M310.9 171.9h1M297.7 168.8h1M313.8 182.9h1M307.1 165.8h1M319.2 186.3h1M311.7 166.4h1M304.6 170.3h1M322.0 168.8h1M317.9 176.2h1M308.6 160.6h1M312.6 170.2h1M304.7 165.1h1M315.7 172.2h1M309.6 165.7h1M325.1 174.1h1M315.0 186.8h1M299.9 165.0h1M314.7 174.1h1M315.7 176.7h1M311.9 162.3h1M322.9 174.5h1M312.1 172.8h1M310.9 179.1h1M327.6 181.5h1M324.6 184.4h1M304.0 179.9h1M330.3 178.3h1M319.3 174.5h1M310.9 183.4h1M323.1 181.6h1M305.1 182.6h1M300.2 169.2h1M298.9 160.6h1M303.7 160.7h1M306.2 179.7h1M308.4 167.9h1M309.5 158.9h1M311.5 162.8h1M302.9 175.0h1M312.6 171.7h1M302.9 173.5h1M317.3 160.2h1M302.3 178.6h1M309.3 183.0h1M326.6 167.0h1M321.2 175.1h1M321.5 163.5h1M332.8 175.5h1M313.7 162.4h1M325.8 168.3h1M301.3 175.1h1M305.1 177.0h1M327.5 173.2h1M306.4 176.8h1M310.6 186.8h1M315.8 176.0h1M306.7 182.4h1M310.3 157.0h1M306.7 168.4h1M322.4 172.1h1M307.1 180.9h1M317.6 169.0h1M322.1 180.4h1M309.1 166.8h1M304.0 176.4h1M310.5 162.6h1M322.2 164.6h1M305.8 168.7h1M300.0 163.9h1M326.6 166.8h1M307.8 166.6h1M324.3 183.2h1M304.1 167.0h1M324.8 182.6h1M323.7 163.2h1M330.5 183.1h1M304.1 179.0h1M308.3 159.6h1M310.8 173.0h1M326.9 177.2h1M317.4 165.8h1M305.2 158.7h1M321.2 172.9h1M325.9 176.0h1M324.2 165.5h1M305.6 176.7h1M310.2 185.8h1M326.9 174.7h1M302.7 165.6h1M315.9 182.2h1M319.4 179.0h1M319.4 159.8h1M317.1 173.2h1M300.3 169.3h1M332.3 176.9h1M324.4 176.7h1M299.7 170.1h1M306.2 172.1h1M324.9 166.2h1M312.2 160.3h1M321.5 167.3h1M314.9 181.1h1M321.0 170.8h1M326.4 170.1h1M319.3 171.8h1M312.8 177.2h1M306.0 169.3h1M307.0 175.3h1M329.7 169.0h1M306.7 180.1h1M321.4 176.1h1M315.4 169.0h1M328.9 185.2h1M303.8 163.7h1M315.5 174.7h1M300.7 162.0h1M325.7 176.2h1M317.3 172.7h1M300.9 162.7h1M309.6 184.7h1M316.5 181.6h1M315.5 176.2h1M327.6 186.4h1M298.4 166.5h1M327.1 168.7h1M315.1 176.2h1M302.4 175.1h1M314.7 186.6h1M322.7 164.9h1M318.9 188.5h1M313.7 169.8h1M328.7 182.6h1M300.4 175.5h1M323.5 173.7h1M326.2 187.3h1M306.9 161.5h1M316.4 188.0h1M310.4 179.2h1M320.4 176.7h1M324.2 166.3h1M297.6 164.5h1M321.3 167.3h1M311.9 170.7h1M329.2 165.9h1M310.9 166.7h1M313.6 171.5h1M318.3 182.9h1M311.0 185.1h1M314.7 177.7h1M298.1 157.6h1M314.0 183.6h1M320.3 181.9h1M328.1 177.1h1M317.4 181.0h1M309.0 183.3h1M320.6 186.0h1M311.4 159.5h1M305.9 174.1h1M320.7 165.9h1M320.2 163.3h1M330.0 178.2h1M331.3 174.7h1M298.5 159.3h1M326.7 182.6h1M306.7 168.8h1M321.4 187.8h1M324.0 172.2h1M298.7 158.9h1M325.6 168.5h1M315.7 164.5h1M323.2 177.9h1M327.0 171.3h1M317.6 161.2h1M323.8 166.3h1M320.0 182.5h1M313.1 163.4h1M324.2 169.6h1M304.1 178.8h1M326.7 185.9h1M320.5 161.3h1M328.7 183.9h1M304.8 164.5h1M303.6 173.7h1M319.9 178.6h1M322.1 172.2h1M312.5 166.8h1M313.8 164.1h1M308.5 172.9h1M315.3 173.2h1M309.1 162.8h1M305.5 176.8h1M312.1 176.6h1M314.6 171.1h1M308.5 168.9h1M310.8 162.4h1M306.9 172.8h1M311.7 168.3h1M305.0 171.3h1M304.4 168.4h1M317.0 170.9h1M311.7 168.0h1M303.5 160.3h1M307.6 168.7h1M305.0 167.0h1M312.4 167.2h1M306.2 157.7h1M303.5 161.4h1M307.2 168.8h1M298.6 167.1h1M307.2 175.8h1M301.1 161.0h1M304.7 164.0h1M312.5 170.6h1M315.6 169.5h1M312.8 164.8h1M312.9 172.8h1M297.6 167.4h1M304.9 164.7h1M312.5 167.1h1M312.9 176.2h1M307.4 166.6h1M305.3 161.1h1M312.9 170.7h1M303.7 157.9h1M306.4 167.4h1M303.5 165.3h1M299.1 163.7h1M309.7 167.2h1M314.2 175.9h1M311.8 166.1h1M305.3 164.5h1M312.1 169.5h1M303.9 166.5h1M306.6 168.4h1M311.5 168.1h1M300.9 161.0h1M307.3 166.1h1M309.3 172.8h1M310.4 170.1h1M316.5 174.3h1M304.5 162.8h1M305.0 173.1h1M310.0 173.0h1M314.3 167.8h1M309.9 165.2h1M306.8 166.3h1M307.8 175.1h1M316.5 177.2h1M312.8 160.5h1M312.1 174.8h1M310.1 174.8h1M314.4 167.8h1M312.3 172.4h1M310.7 168.1h1M307.3 169.7h1M308.1 171.4h1M310.6 167.0h1M300.7 157.7h1M305.4 171.5h1M303.6 168.0h1M311.2 161.9h1M316.8 176.0h1M313.4 174.6h1M310.0 163.3h1M302.5 167.8h1M318.3 169.3h1M311.8 169.5h1M314.8 175.6h1M310.8 170.7h1M312.5 171.1h1M315.1 169.4h1M307.0 170.7h1M312.7 172.8h1M298.6 169.8h1M313.9 176.4h1M312.6 167.6h1M309.4 169.9h1M313.9 163.2h1M324.0 179.0h1M311.7 164.0h1M310.0 170.7h1M305.7 160.6h1M309.8 169.9h1M306.4 159.8h1M314.4 171.7h1M308.1 170.1h1M310.7 166.1h1M311.7 174.5h1M310.9 172.2h1M309.9 164.0h1M310.4 165.3h1M307.3 173.7h1M311.6 163.5h1M310.8 174.5h1M308.4 170.2h1M306.8 162.3h1M318.5 167.2h1M308.7 170.0h1M317.4 172.1h1M314.6 169.6h1M305.9 171.8h1M310.9 172.8h1M307.7 163.7h1M309.1 164.2h1M310.5 165.4h1M317.9 168.5h1M307.5 164.9h1M315.7 173.2h1M305.5 157.9h1M310.2 174.2h1M311.8 172.1h1M310.3 166.3h1M300.2 168.5h1M308.0 170.0h1M303.0 164.2h1M310.5 175.0h1M309.6 167.9h1M305.9 166.7h1M314.7 172.7h1M313.5 166.9h1M307.1 173.1h1M322.6 179.0h1M309.8 164.7h1M314.9 174.2h1M308.1 173.9h1M302.1 166.2h1M315.2 176.3h1M312.2 175.9h1M300.0 166.6h1M309.9 173.9h1M308.9 174.0h1M312.8 169.4h1M310.8 167.8h1M310.6 177.2h1M316.1 168.3h1M306.0 173.5h1M307.5 167.4h1M307.7 170.9h1M310.4 169.4h1M308.0 165.9h1M307.8 170.6h1M305.1 169.7h1M305.3 164.7h1M310.3 170.8h1M306.1 165.7h1M309.1 169.6h1M314.1 166.3h1M311.6 165.9h1M314.8 177.3h1M300.5 170.1h1M306.1 166.9h1M307.6 169.6h1M310.0 169.6h1M309.6 169.1h1M306.3 173.9h1M312.1 171.1h1M310.8 167.1h1M303.8 160.6h1M311.4 163.3h1M303.7 173.4h1M318.0 173.8h1M308.1 172.2h1M309.1 171.1h1M313.6 167.8h1M304.9 165.0h1M301.3 165.0h1M306.9 159.1h1M316.1 164.0h1M312.8 167.7h1M303.9 162.6h1M306.0 165.9h1M315.2 172.6h1M318.5 179.8h1M303.8 172.0h1M308.0 164.7h1M308.9 164.4h1M300.3 167.1h1M311.7 168.6h1M313.1 170.8h1M310.5 169.5h1M305.6 169.5h1M308.7 160.4h1M311.8 170.1h1M306.9 160.8h1M307.4 171.7h1M308.1 166.4h1M314.1 167.4h1M315.8 173.6h1M312.6 172.9h1M309.1 168.6h1M311.0 172.9h1M311.0 164.4h1M305.2 168.8h1M315.3 173.0h1M306.0 166.4h1M310.0 172.3h1M304.4 170.1h1M306.6 174.6h1M313.5 168.7h1M306.6 163.7h1M302.3 163.6h1M298.5 166.5h1M304.3 168.3h1M306.0 168.2h1M308.8 164.2h1M303.2 165.9h1M308.3 172.9h1M305.1 170.4h1M310.5 165.6h1M309.0 170.3h1M305.5 165.1h1M305.1 167.7h1M308.0 165.5h1M309.7 166.6h1M305.8 164.9h1M312.0 168.3h1M306.2 163.8h1M303.5 170.1h1M311.6 168.6h1M302.4 168.8h1M316.0 171.2h1M307.4 167.4h1M308.2 162.5h1M317.4 166.4h1M303.8 165.4h1M314.6 165.4h1M309.8 171.3h1M310.3 166.9h1M314.9 166.5h1M317.1 170.3h1M311.5 170.6h1M311.4 168.2h1M308.2 176.0h1M304.0 171.2h1M303.1 166.1h1M313.7 167.4h1M309.2 162.7h1M304.8 168.8h1M307.8 172.2h1M311.2 168.7h1M307.8 164.9h1M310.7 168.6h1M312.4 166.8h1M315.1 170.2h1M303.7 168.6h1M307.5 166.8h1M309.9 170.7h1M309.4 172.3h1M312.0 165.2h1M300.8 161.5h1M303.9 166.9h1M314.1 158.9h1M317.7 175.5h1M308.9 166.9h1M303.5 166.9h1M301.3 168.5h1M312.3 162.1h1M317.7 176.1h1M313.7 172.4h1M306.9 157.8h1M311.4 164.8h1M301.0 174.3h1M305.0 169.7h1M307.6 172.5h1M313.5 175.8h1M323.0 182.8h1M299.6 163.0h1M306.6 167.8h1M328.7 179.6h1M322.2 184.2h1M311.9 165.7h1M319.1 171.6h1M308.1 167.6h1M302.5 160.1h1M321.3 171.1h1M311.3 172.6h1M315.6 175.2h1M318.7 185.2h1M317.5 179.2h1M324.0 171.6h1M309.7 169.7h1M310.1 168.8h1M323.7 181.3h1M304.4 173.8h1M301.0 165.9h1M308.0 182.1h1M315.3 169.4h1M316.2 167.2h1M304.8 162.7h1M316.3 176.6h1M327.5 186.1h1M316.4 163.3h1M315.3 176.9h1M310.5 156.9h1M318.6 174.1h1M320.9 161.3h1M303.5 170.6h1M315.0 176.5h1M319.6 185.8h1M312.7 169.4h1M317.8 179.4h1M319.1 173.2h1M324.5 176.5h1M319.5 164.4h1M320.0 162.4h1M315.5 166.4h1M328.5 175.8h1M303.6 169.0h1M316.6 170.5h1M316.5 176.3h1M316.6 179.9h1M308.8 175.0h1M317.4 182.5h1M310.5 173.2h1M306.4 176.3h1M320.8 179.7h1M314.9 171.1h1M305.5 176.3h1M300.5 164.5h1M312.2 163.5h1M314.6 177.0h1M330.4 188.8h1M322.5 167.5h1M301.0 173.8h1M323.9 181.1h1M319.4 170.0h1M332.6 173.6h1M324.7 157.2h1M325.7 174.0h1M310.0 176.9h1M306.5 178.3h1M319.3 177.6h1M323.2 172.9h1M310.0 179.0h1M322.4 177.7h1M318.8 170.8h1M314.4 175.7h1M315.2 169.3h1M317.6 173.2h1M309.8 157.7h1M317.4 171.9h1M312.9 186.3h1M319.0 178.1h1M307.0 165.8h1M301.9 162.0h1M321.7 181.4h1M337.6 183.0h1M302.6 167.3h1M306.2 166.2h1M316.9 179.9h1M310.7 159.2h1M323.1 171.5h1M313.4 169.1h1M320.6 170.9h1M306.6 176.9h1M309.0 177.4h1M315.8 168.6h1M309.8 175.7h1M321.5 169.6h1M330.4 173.9h1M307.8 166.4h1M301.2 170.4h1M328.9 176.7h1M314.3 165.1h1M323.4 163.1h1M315.2 174.9h1M325.3 183.0h1M307.9 164.8h1M331.5 182.4h1M306.3 178.2h1M321.4 171.6h1M321.8 182.7h1M303.9 166.1h1M320.1 172.9h1M310.3 163.8h1M318.4 169.2h1M319.9 171.6h1M321.5 169.6h1M303.8 169.9h1M321.2 174.3h1M324.9 173.7h1M307.3 166.2h1M299.2 164.7h1M346.1 186.0h1M351.6 169.2h1M333.4 177.5h1M350.1 178.1h1M338.0 184.7h1M339.1 169.1h1M347.4 177.5h1M339.1 174.3h1M350.0 184.8h1" stroke="#000" stroke-width="1" fill="none"/>
<path d="M358.3 167.9h1M358.7 164.4h1M359.1 168.6h1M356.3 166.9h1M356.5 174.1h1M357.6 178.2h1M355.1 175.3h1M359.5 182.6h1M358.3 172.4h1" stroke="#000" stroke-width="1" fill="none"/>
<path d="M417.3 228.6V151.4" stroke="#585858" stroke-width="1.2" fill="none"/>
<path d="M502.4 228.6V151.4" stroke="#484848" stroke-width="1.2" fill="none"/>
<path d="M416.7 152H503.0" stroke="#484848" stroke-width="1.2" fill="none"/>
<path d="M416.7 228H503.0" stroke="#484848" stroke-width="1.2" fill="none"/>
<path d="M474.4 152V228M417.3 187H502.4" stroke="#5c5c5c" stroke-width="1.1" fill="none"/>
<text x="460.5" y="146.0" font-size="9.4" text-anchor="middle">SarSP-TN-DCs + MR1 mAb</text>
<text x="488.2" y="162.2" font-size="8.8" text-anchor="middle">0.4</text>
<text x="416.9" y="234.9" font-size="6.1" style="font-weight:normal;stroke-width:0" fill="#3a3a3a">10<tspan font-size="4.7" dy="-2.5">0</tspan></text>
<text transform="translate(415.1,228.6) rotate(-90)" font-size="6.1" style="font-weight:normal;stroke-width:0" fill="#3a3a3a">10<tspan font-size="4.7" dy="-2.5">0</tspan></text>
<text x="438.2" y="234.9" font-size="6.1" style="font-weight:normal;stroke-width:0" fill="#3a3a3a">10<tspan font-size="4.7" dy="-2.5">1</tspan></text>
<text transform="translate(415.1,209.6) rotate(-90)" font-size="6.1" style="font-weight:normal;stroke-width:0" fill="#3a3a3a">10<tspan font-size="4.7" dy="-2.5">1</tspan></text>
<text x="459.5" y="234.9" font-size="6.1" style="font-weight:normal;stroke-width:0" fill="#3a3a3a">10<tspan font-size="4.7" dy="-2.5">2</tspan></text>
<text transform="translate(415.1,190.6) rotate(-90)" font-size="6.1" style="font-weight:normal;stroke-width:0" fill="#3a3a3a">10<tspan font-size="4.7" dy="-2.5">2</tspan></text>
<text x="480.7" y="234.9" font-size="6.1" style="font-weight:normal;stroke-width:0" fill="#3a3a3a">10<tspan font-size="4.7" dy="-2.5">3</tspan></text>
<text transform="translate(415.1,171.6) rotate(-90)" font-size="6.1" style="font-weight:normal;stroke-width:0" fill="#3a3a3a">10<tspan font-size="4.7" dy="-2.5">3</tspan></text>
<text x="502.0" y="234.9" font-size="6.1" style="font-weight:normal;stroke-width:0" fill="#3a3a3a">10<tspan font-size="4.7" dy="-2.5">4</tspan></text>
<path d="M436.6 163.1h1M447.0 171.0h1M450.3 176.9h1M449.7 176.8h1M442.2 159.9h1M441.7 180.8h1M432.7 181.3h1M448.1 163.9h1M447.1 166.2h1M428.5 155.6h1M440.7 172.5h1M430.3 170.0h1M444.0 159.4h1M432.6 163.9h1M431.0 181.0h1M437.7 170.0h1M430.2 177.1h1M426.5 163.0h1M420.9 172.7h1M450.6 181.3h1M442.7 174.0h1M422.9 169.3h1M420.5 161.8h1M429.2 168.6h1M421.2 164.2h1M451.2 168.3h1M432.7 159.3h1M445.6 180.7h1M437.7 157.4h1M425.4 182.3h1M431.1 164.0h1M424.7 171.6h1M451.5 163.9h1M439.5 178.1h1M424.0 162.7h1M452.8 177.6h1M438.1 164.7h1M431.2 178.6h1M432.6 174.6h1M429.2 180.3h1M423.5 163.8h1M429.2 163.9h1M455.3 171.4h1M442.5 176.1h1M427.0 162.8h1M420.9 178.3h1M450.0 181.9h1M441.1 170.6h1M425.4 162.0h1M446.2 169.8h1M453.7 169.1h1M432.0 181.6h1M448.9 168.3h1M450.9 166.4h1M439.0 185.0h1M421.8 175.6h1M420.8 177.3h1M429.7 172.0h1M447.3 160.0h1M436.9 179.6h1M443.9 172.0h1M419.7 161.7h1M436.2 186.1h1M437.9 172.2h1M422.8 175.0h1M437.6 158.2h1M446.2 159.6h1M437.7 169.0h1M421.5 167.6h1M424.2 162.3h1M427.3 178.0h1M429.6 155.2h1M446.6 162.9h1M448.5 184.7h1M445.1 179.2h1M425.2 155.3h1M446.1 184.2h1M447.3 174.5h1M430.0 155.6h1M432.0 166.3h1M438.4 162.9h1M445.9 165.3h1M453.4 167.4h1M440.4 182.8h1M423.3 156.5h1M426.4 178.2h1M433.8 174.3h1M445.5 171.5h1M447.9 181.8h1M419.0 160.1h1M448.6 183.3h1M449.2 161.4h1M428.1 170.0h1M438.8 181.4h1M422.4 176.9h1M447.5 171.4h1M438.1 177.3h1M434.1 174.9h1M445.9 180.5h1M443.0 163.2h1M448.2 172.6h1M444.4 163.8h1M439.6 163.3h1M439.8 178.2h1M426.9 170.0h1M422.6 155.1h1M452.1 181.2h1M423.1 165.3h1M436.5 155.6h1M423.2 178.7h1M430.7 163.7h1M442.7 173.3h1M452.2 168.9h1M443.1 156.9h1M423.3 178.7h1M438.8 161.6h1M432.5 159.4h1M427.5 157.4h1M435.5 186.2h1M418.2 164.1h1M427.4 164.4h1M430.0 162.9h1M433.9 158.7h1M428.0 173.1h1M430.2 167.6h1M449.3 182.4h1M421.5 172.2h1M418.9 169.1h1M422.8 166.7h1M438.0 185.5h1M445.5 168.8h1M433.8 167.4h1M439.0 169.2h1M433.7 166.2h1M435.2 168.1h1M441.0 169.4h1M448.7 159.0h1M442.3 161.3h1M448.5 178.5h1M424.7 174.5h1M449.0 165.8h1M443.7 166.3h1M440.6 171.1h1M441.8 161.8h1M422.0 172.6h1M450.3 178.7h1M441.7 181.0h1M424.6 158.4h1M442.4 178.3h1M432.2 155.1h1M451.5 178.3h1M448.4 181.6h1M429.9 169.8h1M429.2 173.8h1M443.0 159.4h1M421.6 159.9h1M428.1 167.4h1M439.3 177.0h1M431.2 175.5h1M424.9 178.1h1M436.1 185.3h1M439.7 155.1h1M421.8 165.6h1M447.3 167.9h1M439.2 186.7h1M443.9 183.9h1M426.4 173.1h1M437.7 182.7h1M434.3 178.0h1M431.5 157.4h1M441.1 169.2h1M423.6 179.9h1M438.3 175.1h1M438.6 182.4h1M433.9 173.9h1M419.9 158.7h1M427.4 184.3h1M434.7 162.7h1M422.5 159.2h1M424.9 156.7h1M435.1 167.8h1M438.5 157.7h1M428.4 175.6h1M421.4 156.8h1M444.9 177.5h1M429.6 163.2h1M418.8 168.5h1M427.3 176.2h1M429.2 167.8h1M435.1 157.4h1M432.7 165.7h1M430.3 181.5h1M441.0 183.0h1M434.7 174.6h1M451.5 173.6h1M441.0 156.0h1M436.3 172.0h1M446.3 180.6h1M453.0 177.0h1M449.2 162.6h1M426.2 155.7h1M427.2 180.4h1M445.1 166.1h1M439.5 177.7h1M436.8 180.5h1M428.4 157.6h1M419.8 166.2h1M439.5 163.6h1M425.3 155.2h1M422.6 161.3h1M420.7 162.3h1M435.7 155.6h1M439.5 165.1h1M443.6 158.7h1M426.1 182.8h1M430.7 165.1h1M424.6 157.6h1M429.9 179.3h1M447.6 184.2h1M432.5 158.9h1M438.4 164.8h1M428.4 166.5h1M428.8 169.8h1M446.3 178.8h1M447.1 172.6h1M447.7 181.0h1M436.3 166.6h1M438.2 184.6h1M421.2 162.0h1M445.0 164.4h1M452.6 165.1h1M442.6 175.1h1M428.1 162.5h1M430.7 181.7h1M442.5 160.0h1M430.8 183.1h1M434.2 185.7h1M438.1 169.5h1M447.5 170.8h1M443.2 156.3h1M420.4 159.1h1M422.4 165.0h1M429.2 180.2h1M446.5 172.5h1M431.8 185.7h1M435.8 165.2h1M446.6 170.7h1M426.6 175.5h1M452.5 167.5h1M434.5 180.7h1M445.4 164.2h1M442.0 180.4h1M441.6 173.8h1M421.2 176.2h1M448.2 181.4h1M435.5 163.1h1M442.2 185.9h1M441.5 163.8h1M441.4 185.7h1M438.8 155.1h1M450.0 160.6h1M422.0 171.0h1M453.1 179.8h1M440.1 172.9h1M452.3 173.4h1M439.5 174.9h1M439.1 169.4h1M445.4 159.9h1M423.1 168.0h1M419.8 173.0h1M427.8 160.2h1M419.4 158.7h1M434.4 179.3h1M437.9 157.9h1M435.6 174.2h1M429.8 157.7h1M433.1 158.3h1M452.8 169.9h1M447.0 166.0h1M435.9 168.0h1M451.1 161.8h1M446.8 161.3h1M439.6 182.8h1M429.2 176.2h1M439.3 175.5h1M454.0 174.3h1M444.4 175.9h1M448.5 178.1h1M432.5 156.4h1M454.7 174.9h1M440.1 171.4h1M442.2 174.6h1M444.9 161.3h1M435.4 166.3h1M428.9 166.9h1M444.9 163.1h1M434.1 157.4h1M422.3 165.0h1M449.8 174.9h1M424.7 172.3h1M432.3 160.7h1M440.6 175.3h1M435.3 154.8h1M419.2 177.9h1M418.1 164.6h1M441.2 178.8h1M452.3 170.0h1M419.1 167.7h1M451.9 161.7h1M422.5 173.9h1M437.1 163.9h1M426.3 177.0h1M423.3 174.2h1M435.2 184.5h1M429.9 169.3h1M442.8 167.8h1M446.8 184.6h1M456.4 172.3h1M432.9 171.9h1M426.3 174.9h1M437.7 166.5h1M443.7 158.2h1M434.0 175.6h1M451.4 178.3h1M427.7 156.4h1M426.6 176.2h1M422.2 177.3h1M440.7 160.8h1M442.1 180.8h1M436.3 182.6h1M435.8 169.5h1M435.0 162.1h1M435.8 185.2h1M438.3 165.3h1M425.1 168.8h1M419.6 160.6h1M443.4 170.1h1M435.4 186.0h1M452.9 171.5h1M421.5 164.7h1M441.4 173.9h1M453.7 174.6h1M443.9 177.6h1M427.7 169.2h1M433.5 158.2h1M427.1 183.9h1M449.0 165.7h1M442.8 161.2h1M446.1 184.4h1M421.3 158.9h1M425.4 168.2h1M436.6 156.4h1M431.5 165.4h1M433.9 180.7h1M440.0 166.7h1M431.5 183.1h1M419.9 156.9h1M419.1 172.1h1M429.8 170.4h1M443.3 165.5h1M425.8 164.2h1M454.6 170.4h1M441.9 172.2h1M438.5 181.9h1M432.8 185.5h1M440.7 183.2h1M434.2 172.7h1M435.7 174.5h1M444.5 165.5h1M425.9 160.3h1M445.1 173.7h1M442.7 159.6h1M422.4 156.0h1M435.0 175.2h1M427.9 169.1h1M425.9 179.2h1M451.3 166.7h1M424.7 159.8h1M423.5 157.8h1M418.4 157.1h1M432.3 173.4h1M444.2 169.8h1M444.5 174.6h1M420.6 157.6h1M440.2 185.5h1M418.6 166.7h1M423.0 160.5h1M449.7 168.5h1M435.3 174.4h1M437.4 162.3h1M443.8 184.3h1M439.1 167.2h1M421.0 172.5h1M440.3 157.3h1M441.3 155.9h1M437.8 159.6h1M445.8 184.7h1M432.5 169.0h1M422.7 165.6h1M425.2 180.5h1M440.1 182.9h1M435.3 164.1h1M433.0 161.2h1M431.3 169.1h1M439.9 175.5h1M431.8 181.4h1M438.6 167.0h1M446.7 174.9h1M436.0 159.4h1M450.1 159.9h1M427.3 169.2h1M431.7 180.3h1M433.1 167.5h1M454.8 172.2h1M430.5 181.9h1M453.0 163.9h1M428.3 164.5h1M428.7 180.8h1M438.1 158.2h1M444.2 170.4h1M425.0 158.7h1M434.9 168.8h1M448.2 179.4h1M425.6 158.5h1M441.5 166.6h1M420.2 159.6h1M422.4 179.8h1M447.5 183.7h1M425.5 165.4h1M446.3 164.2h1M425.5 166.5h1M444.4 161.5h1M418.6 166.9h1M435.7 153.6h1M419.1 170.8h1M450.5 164.2h1M441.8 186.1h1M451.5 173.3h1M419.9 165.7h1M433.3 183.3h1M438.4 174.2h1M425.5 171.0h1M437.9 181.6h1M437.8 181.3h1M443.3 176.3h1M424.1 173.7h1M419.6 157.8h1M431.6 164.6h1M426.8 165.6h1M426.3 161.8h1M439.8 166.9h1M447.8 178.7h1M427.0 155.3h1M440.4 159.4h1M449.2 164.8h1M439.6 171.1h1M436.7 184.9h1M449.6 163.4h1M453.0 172.5h1M421.7 163.6h1M426.4 180.4h1M420.7 173.0h1M434.3 158.0h1M434.6 170.5h1M437.2 184.0h1M420.9 162.7h1M449.2 169.4h1M438.5 162.9h1M439.4 171.9h1M446.6 185.0h1M442.2 168.5h1M441.7 179.4h1M431.5 171.8h1M423.9 155.7h1M429.0 159.6h1M439.4 178.9h1M433.4 171.7h1M443.9 180.3h1M425.3 171.3h1M433.5 185.6h1M440.7 179.9h1M420.4 172.4h1M434.8 161.3h1M445.7 176.3h1M451.3 170.5h1M440.2 165.2h1M432.8 182.4h1M418.2 165.9h1M444.8 174.9h1M421.6 173.4h1M450.2 166.0h1M447.2 172.1h1M430.6 158.0h1M437.9 178.0h1M438.7 161.2h1M443.7 168.8h1M451.7 175.5h1M419.9 158.7h1M434.9 183.4h1M443.1 173.2h1M440.7 160.8h1M446.3 172.3h1M444.5 165.6h1M452.2 178.6h1M428.8 162.8h1M441.4 174.5h1M431.3 159.9h1M435.3 155.4h1M440.3 181.2h1M439.7 175.9h1M424.1 172.3h1M428.1 164.3h1M444.3 170.6h1M451.2 173.5h1M430.1 162.2h1M451.5 166.2h1M424.6 159.2h1M452.5 168.5h1M430.6 176.8h1M418.7 170.0h1M439.8 177.8h1M442.8 164.3h1M446.1 160.0h1M439.2 170.1h1M431.3 163.8h1M431.6 180.8h1M432.9 161.6h1M435.3 178.1h1M449.5 180.2h1M438.9 176.0h1M439.4 171.7h1M432.4 174.7h1M438.4 159.8h1M435.8 156.1h1M448.7 168.5h1M448.0 158.4h1M434.4 173.8h1M434.4 183.2h1M442.1 170.3h1M421.8 165.3h1M444.6 177.5h1M429.8 179.1h1M422.0 166.8h1M433.9 171.2h1M453.1 163.6h1M438.2 180.2h1M450.2 174.6h1M430.7 156.7h1M432.6 167.9h1M434.1 182.5h1M449.2 166.7h1M453.1 165.5h1M445.9 170.1h1M450.2 181.0h1M434.8 171.4h1M428.4 180.3h1M442.2 159.5h1M432.8 177.4h1M421.7 170.1h1M426.0 170.6h1M434.6 174.8h1M435.3 180.2h1M447.1 184.1h1M427.3 174.1h1M432.8 172.4h1M438.2 155.6h1M422.1 168.6h1M435.3 160.7h1M438.9 167.9h1M434.1 160.4h1M438.6 172.3h1M441.9 155.3h1M450.9 167.9h1M420.0 158.5h1M419.4 161.1h1M452.6 165.9h1M431.6 179.9h1M434.8 170.8h1M421.0 169.0h1M431.9 169.2h1M434.1 182.7h1M434.0 157.8h1M423.0 158.8h1M433.8 181.7h1M431.8 158.9h1M450.0 162.6h1M421.3 162.1h1M423.0 162.3h1M429.1 170.2h1M449.3 160.7h1M447.2 179.8h1M441.8 170.9h1M441.6 158.6h1M435.7 166.0h1M440.5 161.3h1M446.0 167.7h1M444.8 159.4h1M428.8 155.9h1M441.7 170.6h1M418.3 164.0h1M455.7 174.4h1M424.3 165.6h1M422.7 178.9h1M437.3 166.7h1M423.4 159.5h1M438.3 175.6h1M433.0 154.3h1M428.8 172.5h1M428.9 154.6h1M440.2 164.3h1M420.4 176.1h1M419.3 165.0h1M429.0 166.8h1M454.3 167.2h1M426.2 164.0h1M439.9 162.9h1M419.1 166.7h1M452.4 169.8h1M446.3 167.2h1M451.4 162.1h1M450.1 174.7h1M434.3 162.9h1M431.7 162.1h1M427.3 167.2h1M441.6 168.0h1M433.1 168.6h1M449.2 177.3h1M436.8 185.3h1M435.4 174.7h1M446.6 170.0h1M444.7 180.1h1M450.1 171.5h1M420.2 168.4h1M441.1 157.9h1M421.4 165.5h1M451.3 164.4h1M422.5 172.7h1M436.8 161.0h1M425.0 157.5h1M450.2 164.5h1M437.8 154.2h1M436.8 179.9h1M440.0 161.1h1M427.6 165.1h1M447.8 163.7h1M440.8 182.4h1M444.5 172.5h1M428.8 173.0h1M435.4 184.4h1M438.6 157.3h1M421.5 164.3h1M438.3 175.8h1M431.6 166.9h1M442.3 161.4h1M440.6 180.1h1M449.1 172.4h1M430.7 172.3h1M428.0 167.2h1M437.2 175.2h1M421.1 159.5h1M436.6 156.3h1M434.5 169.1h1M422.4 164.2h1M436.6 173.5h1M449.8 161.6h1M432.4 163.2h1M429.5 175.0h1M437.7 155.7h1M428.1 168.2h1M422.4 155.5h1M446.1 182.8h1M426.7 181.9h1M453.0 172.8h1M432.3 182.7h1M419.9 162.9h1M439.6 178.8h1M423.8 167.8h1M418.3 161.2h1M437.6 158.0h1M432.3 186.2h1M426.6 167.6h1M433.5 176.8h1M431.0 183.3h1M421.7 157.4h1M433.7 171.4h1M421.9 170.5h1M438.0 171.4h1M440.3 181.7h1M444.6 165.3h1M445.6 178.8h1M418.7 171.8h1M443.0 158.7h1M433.8 159.3h1M425.1 157.0h1M430.7 163.0h1M435.1 169.5h1M435.3 157.8h1M451.8 162.3h1M423.4 169.5h1M439.2 167.1h1M432.0 167.5h1M450.1 170.0h1M448.0 175.1h1M421.2 160.8h1M448.4 174.2h1M446.6 170.1h1M421.1 172.8h1M426.7 162.6h1M447.9 159.3h1M418.3 163.8h1M445.2 180.1h1M419.7 166.3h1M449.5 164.4h1M420.3 176.8h1M434.0 163.0h1M432.1 170.5h1M430.1 160.0h1M447.2 168.4h1M443.0 160.9h1M432.9 176.1h1M431.8 165.5h1M427.2 163.4h1M419.3 167.8h1M419.9 157.6h1M447.9 173.2h1M446.5 175.6h1M429.0 162.7h1M450.6 178.9h1M418.0 160.4h1M441.4 186.4h1M431.3 177.4h1M446.8 182.1h1M433.0 158.0h1M440.9 178.9h1M432.8 158.8h1M437.1 166.0h1M423.6 173.0h1M422.9 160.6h1M431.8 172.7h1M439.5 175.7h1M446.2 184.1h1M439.5 185.3h1M440.7 183.8h1M444.7 177.3h1M449.0 171.7h1M444.0 159.5h1M421.2 164.9h1M426.8 163.7h1M440.3 159.2h1M447.9 164.2h1M436.6 156.4h1M423.4 173.7h1M431.8 166.3h1M437.9 161.0h1M419.3 159.6h1M442.0 171.1h1M435.5 180.9h1M445.6 171.3h1M424.4 171.9h1M448.5 166.6h1M436.1 156.9h1M434.6 186.6h1M427.7 160.5h1M431.8 169.9h1M438.0 159.3h1M430.8 172.9h1M434.3 163.1h1M431.8 155.4h1M426.5 154.7h1M425.6 174.9h1M433.7 165.8h1M421.0 171.7h1M430.0 170.8h1M438.6 156.5h1M431.7 185.7h1M429.0 167.9h1M435.4 159.5h1M429.0 180.5h1M432.6 161.5h1M443.5 180.4h1M437.9 175.5h1M442.2 167.3h1M429.9 156.0h1M429.9 177.2h1M445.7 174.6h1M420.7 172.7h1M426.8 163.9h1M448.3 162.7h1M420.5 170.6h1M431.8 166.8h1M453.5 176.2h1M439.7 174.9h1M427.0 175.2h1M448.0 175.2h1M449.0 169.8h1M428.1 166.0h1M441.1 184.6h1M436.4 175.3h1M427.2 163.4h1M450.4 174.1h1M443.6 166.7h1M427.3 175.6h1M439.6 175.9h1M420.6 176.5h1M451.5 169.6h1M436.1 158.3h1M441.4 168.6h1M447.5 173.6h1M442.9 166.0h1M422.0 167.0h1M433.8 170.0h1M421.3 175.9h1M434.7 155.0h1M445.6 177.5h1M419.9 157.6h1M448.4 168.1h1M424.6 179.8h1M448.4 182.8h1M448.0 166.6h1M440.0 164.7h1M440.0 184.5h1M441.1 172.4h1M435.0 169.6h1M454.8 174.7h1M448.2 156.6h1M439.4 171.0h1M428.3 182.6h1M424.3 175.9h1M448.9 158.8h1M421.5 171.4h1M439.4 183.7h1M438.6 169.6h1M438.3 158.7h1M444.0 185.6h1M428.7 179.3h1M423.7 177.9h1M420.2 173.3h1M442.4 184.9h1M428.3 167.8h1M445.0 159.5h1M447.6 179.6h1M439.4 178.5h1M441.2 180.6h1M438.5 187.2h1M425.4 155.5h1M419.0 160.5h1M444.7 178.8h1M430.2 173.1h1M445.0 181.0h1M432.4 163.8h1M431.8 161.6h1M426.5 155.8h1M428.7 160.2h1M431.2 176.6h1M440.5 178.7h1M443.5 155.9h1M420.9 160.7h1M447.2 178.7h1M435.6 156.7h1M424.4 177.1h1M427.9 179.5h1M448.6 166.1h1M440.1 177.2h1M418.6 167.3h1M418.9 172.6h1M421.1 169.4h1M421.2 173.0h1M427.4 164.2h1M436.0 185.7h1M441.6 170.4h1M448.2 171.5h1M443.2 175.9h1M439.6 171.0h1M430.2 164.0h1M435.3 162.0h1M445.0 167.6h1M449.2 181.2h1M434.3 175.8h1M449.9 161.3h1M444.9 163.9h1M449.9 182.9h1M425.1 168.5h1M442.6 158.8h1M436.8 183.5h1M429.0 183.2h1M436.4 185.3h1M434.1 180.0h1M424.0 181.4h1M447.6 177.5h1M436.5 157.4h1M429.3 164.4h1M447.0 160.9h1M452.9 165.2h1M443.3 175.1h1M424.3 156.3h1M421.5 169.0h1M438.2 156.7h1M434.6 172.4h1M447.0 169.0h1M429.2 164.3h1M420.9 160.1h1M430.8 157.2h1M439.9 179.9h1M448.0 177.7h1M421.7 175.0h1M440.5 169.7h1M442.0 160.6h1M438.2 180.9h1M448.9 181.2h1M444.7 175.9h1M445.3 182.3h1M433.4 161.3h1M439.2 166.4h1M440.4 186.4h1M423.9 162.7h1M438.8 168.1h1M441.3 182.5h1M446.8 179.5h1M436.3 185.0h1M455.1 173.1h1M441.3 183.2h1M442.7 168.4h1M450.0 166.2h1M429.4 155.8h1M422.3 159.9h1M433.8 156.6h1M438.1 185.6h1M418.7 157.9h1M425.2 182.1h1M438.9 176.6h1M431.1 160.7h1M443.3 173.8h1M440.0 163.1h1M448.1 180.3h1M443.5 176.7h1M435.5 178.6h1M438.2 173.9h1M442.0 158.8h1M445.1 174.8h1M426.5 167.7h1M442.6 183.7h1M425.5 174.0h1M423.8 167.1h1M432.0 162.7h1M438.1 178.8h1M427.1 175.2h1M437.0 165.7h1M429.0 156.1h1M432.9 165.4h1M444.5 159.4h1M430.7 158.0h1M451.2 169.2h1M442.9 168.2h1M419.8 167.2h1M432.4 158.8h1M450.4 176.5h1M440.6 172.2h1M442.1 159.7h1M427.9 170.0h1M447.5 170.9h1M437.3 156.9h1M434.8 175.3h1M444.0 174.3h1M419.4 165.6h1M423.9 174.7h1M421.8 174.0h1M436.5 182.0h1M425.3 162.0h1M441.3 174.7h1M449.7 183.7h1M445.6 179.8h1M438.1 163.0h1M422.4 160.2h1M425.4 178.4h1M450.0 181.0h1M434.0 165.9h1M426.2 165.0h1M441.0 183.2h1M436.6 163.6h1M440.8 158.1h1M427.8 154.3h1M427.4 154.9h1M425.8 157.3h1M435.4 183.7h1M441.3 164.5h1M432.8 184.7h1M439.3 166.8h1M446.0 156.4h1M430.3 171.3h1M425.6 162.0h1M439.0 168.3h1M435.6 177.2h1M453.6 169.6h1M440.0 154.6h1M438.7 159.6h1M432.1 154.9h1M420.6 171.2h1M421.2 169.3h1M428.0 156.5h1M434.9 157.2h1M425.2 170.3h1M430.5 155.4h1M423.5 155.7h1M438.1 175.8h1M427.4 165.7h1M423.4 157.9h1M446.9 180.0h1M441.6 159.0h1M431.4 174.2h1M419.6 163.2h1M448.8 158.7h1M448.9 170.2h1M440.1 181.8h1M447.3 180.7h1M431.0 172.4h1M440.7 184.9h1M433.9 162.4h1M433.6 174.9h1M436.3 181.6h1M425.3 177.5h1M440.2 162.6h1M437.4 168.2h1M441.5 180.3h1M443.0 174.5h1M431.7 167.2h1M445.8 179.8h1M432.0 161.6h1M434.4 165.4h1M422.9 163.6h1M434.4 165.0h1M436.7 167.2h1M424.6 177.4h1M423.1 168.1h1M433.9 178.4h1M431.3 180.6h1M440.1 170.4h1M435.3 165.4h1M439.5 167.1h1M445.9 159.9h1M447.7 181.4h1M433.2 157.2h1M442.6 173.5h1M452.4 179.1h1M420.7 172.4h1M437.4 161.5h1M446.8 178.9h1M445.6 175.0h1M436.2 157.9h1M434.6 154.5h1M446.2 162.8h1M421.5 164.6h1M452.9 174.9h1M445.6 167.9h1M429.7 177.2h1M432.3 167.5h1M420.7 175.9h1M430.3 180.8h1M437.8 168.9h1M433.1 174.9h1M442.9 157.7h1M448.5 175.4h1M443.2 168.8h1M447.4 183.3h1M442.5 182.9h1M437.0 166.1h1M428.9 173.9h1M430.0 178.6h1M453.6 170.9h1M447.6 179.8h1M424.5 165.0h1M438.4 183.9h1M446.2 180.5h1M446.7 163.7h1M431.1 184.8h1M421.2 167.1h1M433.5 185.0h1M447.1 163.5h1M450.3 184.4h1M442.9 157.4h1M430.0 180.8h1M440.2 186.4h1M441.9 161.4h1M445.2 157.4h1M430.2 164.4h1M437.7 171.3h1M448.7 161.0h1M432.6 184.5h1M446.1 175.4h1M443.0 172.2h1M418.4 166.1h1M432.2 184.9h1M430.8 183.4h1M439.5 180.0h1M437.1 162.7h1M427.2 163.4h1M431.8 167.6h1M441.2 172.0h1M438.3 165.3h1M443.5 168.5h1M445.3 165.2h1M442.7 186.5h1M434.8 180.0h1M428.0 161.2h1M435.7 166.9h1M438.5 171.4h1M442.7 165.4h1M424.2 178.0h1M448.5 165.4h1M422.0 168.9h1M432.9 187.4h1M436.6 154.2h1M443.3 173.7h1M426.0 160.6h1M421.4 169.3h1M450.4 177.6h1M426.2 165.0h1M428.3 180.6h1M434.1 166.2h1M442.8 178.9h1M425.4 166.3h1M436.0 178.9h1M445.5 185.6h1M420.3 171.8h1M434.5 163.5h1M446.7 177.5h1M443.0 168.7h1M436.7 184.1h1M434.9 157.8h1M447.7 159.9h1M429.9 171.2h1M450.6 176.3h1M444.2 182.2h1M450.9 179.9h1M450.5 178.8h1M437.7 186.5h1M443.0 170.9h1M425.5 162.6h1M442.2 174.9h1M450.7 164.4h1M441.5 174.1h1M441.2 183.7h1M436.3 181.8h1M453.2 170.9h1M451.5 170.8h1M452.7 166.4h1M430.1 172.5h1M424.1 171.9h1M443.8 168.3h1M426.3 169.7h1M432.9 165.2h1M430.2 172.7h1M418.2 162.7h1M445.2 185.2h1M425.4 158.9h1M433.5 184.1h1M433.1 163.0h1M439.1 164.3h1M428.0 173.0h1M432.1 175.6h1M443.1 168.5h1M422.9 156.0h1M424.2 163.0h1M444.4 164.4h1M426.4 181.2h1M444.5 164.0h1M433.1 159.3h1M435.3 156.8h1M421.4 174.6h1M439.8 184.6h1M433.7 173.9h1M430.4 157.1h1M431.8 161.4h1M438.9 166.3h1M427.2 173.3h1M438.2 165.7h1M447.5 164.0h1M434.2 178.5h1M441.9 168.4h1M438.8 169.4h1M428.3 163.8h1M448.9 157.7h1M439.2 175.9h1M425.6 175.1h1M423.6 163.6h1M425.7 167.2h1M456.2 171.8h1M419.0 167.9h1M424.4 156.1h1M442.7 155.0h1M446.3 169.0h1M429.7 153.8h1M440.7 183.4h1M437.7 165.5h1M453.0 174.4h1M431.9 184.0h1M443.9 166.4h1M449.0 163.2h1M433.1 162.1h1M449.1 168.6h1M440.6 187.7h1M436.8 181.9h1M419.7 164.2h1M431.0 163.6h1M422.9 167.6h1M429.3 174.4h1M438.0 170.8h1M430.1 181.6h1M438.5 169.5h1M431.3 172.0h1M445.5 155.7h1M436.4 182.6h1M423.5 176.9h1M442.5 157.5h1M438.2 161.7h1M443.0 184.0h1M423.4 172.0h1M444.1 166.1h1M446.6 178.1h1M448.4 176.9h1M434.1 168.8h1M427.3 161.0h1M427.5 165.0h1M450.9 175.2h1M438.2 178.5h1M438.3 182.1h1M437.5 158.2h1M451.2 180.9h1M449.8 159.1h1M437.1 185.1h1M443.4 160.4h1M425.7 184.3h1M439.3 186.2h1M447.5 157.5h1M444.0 155.7h1M439.3 180.8h1M423.6 177.1h1M448.0 173.3h1M427.2 161.0h1M441.0 157.5h1M432.1 168.5h1M419.6 173.0h1M437.9 159.4h1M440.4 159.2h1M418.0 157.9h1M442.1 179.9h1M446.7 175.6h1M433.6 157.8h1M441.2 175.4h1M440.4 155.5h1M439.3 169.1h1M418.7 162.5h1M433.3 162.9h1M420.2 174.1h1M427.5 173.2h1M434.9 164.0h1M440.8 161.9h1M443.0 156.3h1M427.0 165.2h1M417.9 166.9h1M438.0 165.9h1M419.3 169.2h1M441.3 187.4h1M450.9 161.6h1M443.1 180.9h1M422.2 176.8h1M432.8 154.5h1M449.6 176.5h1M435.1 168.5h1M418.3 157.6h1M426.0 174.6h1M421.7 170.1h1M440.8 177.3h1M422.1 173.1h1M425.0 163.9h1M439.9 162.5h1M443.3 159.1h1M432.2 179.0h1M450.2 172.8h1M438.4 181.5h1M451.5 168.3h1M442.1 183.3h1M444.8 176.3h1M431.2 185.6h1M440.9 170.2h1M433.9 159.7h1M450.9 174.4h1M426.4 168.6h1M422.5 170.8h1M447.2 157.5h1M423.5 169.9h1M446.7 176.3h1M437.0 172.3h1M450.2 179.1h1M434.1 177.9h1M438.4 162.9h1M418.9 165.3h1M437.6 163.5h1M434.2 165.8h1M424.1 155.7h1M421.8 159.5h1M438.7 168.1h1M424.9 167.0h1M425.3 158.8h1M427.0 157.5h1M436.6 160.4h1M428.0 163.3h1M443.0 168.4h1M454.0 169.8h1M444.1 177.4h1M443.5 177.6h1M449.5 170.1h1M438.2 177.6h1M447.3 175.6h1M440.4 155.3h1M437.6 174.6h1M420.8 157.6h1M427.2 155.7h1M449.5 173.9h1M449.2 169.2h1M428.7 165.4h1M452.3 168.2h1M432.2 170.9h1M435.7 183.3h1M420.2 162.3h1M450.0 178.8h1M453.2 169.7h1M429.9 170.1h1M442.9 180.6h1M419.6 164.6h1M445.7 175.1h1M431.5 165.0h1M444.0 170.4h1M425.4 173.3h1M453.7 178.0h1M448.3 180.0h1M427.1 167.1h1M447.8 179.4h1M449.4 165.0h1M420.6 168.1h1M443.8 183.2h1M452.1 172.9h1M422.4 179.4h1M431.0 155.0h1M440.7 165.0h1M443.7 157.3h1M449.7 162.2h1M426.9 156.5h1M432.6 162.5h1M446.4 174.0h1M431.9 176.0h1M444.3 160.8h1M419.2 169.8h1M434.6 168.5h1M429.6 155.8h1M436.5 180.3h1M428.7 169.9h1M424.4 172.6h1M443.9 175.0h1M443.0 184.9h1M439.4 163.7h1M453.2 177.6h1M447.6 185.9h1M439.0 178.8h1M436.3 161.8h1M418.4 159.7h1M431.0 165.5h1M442.0 164.7h1M437.4 163.4h1M436.5 163.7h1M431.0 163.2h1M427.5 181.8h1M428.4 180.6h1M436.9 170.6h1M423.6 165.6h1M443.6 177.3h1M421.5 170.4h1M442.9 164.1h1M428.6 164.7h1M432.3 172.4h1M421.3 161.5h1M446.4 163.2h1M428.1 173.6h1M448.2 178.7h1M430.3 163.5h1M437.3 175.1h1M448.2 173.3h1M433.2 164.9h1M427.9 155.7h1M432.1 179.5h1M436.0 161.5h1M438.7 156.6h1M441.0 180.8h1M428.8 161.9h1M436.2 154.3h1M430.6 168.1h1M434.2 165.1h1M437.8 159.8h1M432.8 170.8h1M441.6 180.5h1M433.1 175.3h1M454.5 178.2h1M431.0 158.8h1M420.8 160.7h1M443.8 172.5h1M442.4 180.0h1M444.2 185.3h1M444.4 159.4h1M434.7 157.6h1M450.8 172.7h1M423.6 157.1h1M443.2 166.1h1M439.3 162.6h1M444.0 166.6h1M443.9 164.4h1M433.9 167.1h1M447.0 171.5h1M427.5 166.1h1M452.0 169.4h1M444.0 170.8h1M445.3 168.2h1M430.2 175.7h1M430.5 173.3h1M438.0 184.2h1M423.3 156.2h1M433.0 178.9h1M454.0 171.2h1M435.3 159.1h1M433.7 178.5h1M430.1 177.9h1M435.8 154.8h1M444.5 181.8h1M440.6 178.0h1M436.9 164.0h1M435.2 182.9h1M425.3 172.6h1M439.2 181.6h1M438.5 161.1h1M431.5 169.2h1M445.2 175.0h1M422.6 173.9h1M424.8 164.8h1M440.4 169.3h1M432.4 174.4h1M432.5 155.4h1M430.8 173.7h1M439.4 158.8h1M448.6 167.3h1M427.6 182.0h1M436.6 171.7h1M429.7 160.4h1M442.5 184.1h1M434.2 165.4h1M459.0 168.7h1M439.3 180.9h1M438.2 179.9h1M448.6 179.0h1M432.3 165.4h1M431.0 161.9h1M437.6 167.0h1M431.1 176.2h1M419.8 178.5h1M429.9 180.0h1M433.5 175.4h1M443.6 159.8h1M431.7 168.2h1M422.0 178.6h1M424.0 156.5h1M450.0 159.7h1M437.6 168.9h1M447.8 168.9h1M462.4 169.1h1M426.2 179.1h1M433.0 174.4h1M418.2 174.3h1M430.1 171.4h1M429.6 179.7h1M448.0 182.3h1M433.8 185.7h1M429.3 172.5h1M457.9 173.7h1M418.6 160.3h1M447.2 164.8h1M439.9 162.6h1M430.4 186.2h1M428.6 180.3h1M434.1 156.3h1M435.4 180.1h1M436.9 165.7h1M438.2 164.6h1M437.9 174.1h1M433.6 156.4h1M442.3 156.7h1M437.3 181.7h1M419.3 173.5h1M430.4 168.4h1M451.3 175.8h1M442.5 173.5h1M455.2 161.3h1M431.9 173.5h1M426.3 169.0h1M440.3 170.6h1M431.9 163.3h1M434.1 162.5h1M425.6 186.0h1M435.0 170.1h1M444.2 172.5h1M436.0 185.4h1M438.0 173.1h1M435.8 175.5h1M447.1 157.7h1M445.6 175.5h1M431.4 184.5h1M425.6 173.2h1M435.5 161.5h1M435.8 154.1h1M439.9 172.9h1M425.6 154.3h1M449.0 166.7h1M451.3 164.5h1M425.6 162.7h1M435.2 178.9h1M430.4 159.4h1M432.1 171.9h1M452.8 174.1h1M438.0 163.9h1M436.9 164.0h1M445.8 177.1h1M418.2 166.5h1M451.1 167.6h1M455.7 179.4h1M439.5 176.8h1M433.7 173.8h1M451.3 167.7h1M432.6 178.4h1M421.2 171.7h1M436.2 178.3h1M418.3 171.1h1M435.0 167.8h1M432.7 171.9h1M431.5 174.7h1M446.7 179.7h1M448.4 169.6h1M437.7 161.7h1M430.7 162.2h1M433.0 165.1h1M432.4 173.6h1M419.1 161.4h1M440.8 166.1h1M439.6 172.2h1M442.1 165.8h1M441.4 175.5h1M427.7 174.3h1M434.0 185.1h1M431.4 172.2h1M449.5 163.4h1M450.2 171.1h1M431.3 175.4h1M437.9 171.9h1M430.5 173.3h1M433.6 173.1h1M442.5 159.7h1M446.3 175.3h1M440.6 171.9h1M430.2 160.5h1M429.5 174.8h1M442.8 170.4h1M434.4 176.4h1M431.7 170.0h1M433.7 159.8h1M422.4 165.7h1M443.9 165.8h1M429.6 169.0h1M435.9 177.5h1M450.7 163.6h1M454.8 173.7h1M438.8 182.4h1M423.7 167.8h1M427.5 167.8h1" stroke="#000" stroke-width="1" fill="none"/>
<path d="M466.9 159.1h1M462.0 160.2h1M465.2 185.1h1M460.9 184.0h1M458.9 181.0h1M464.8 171.7h1M455.8 169.4h1M472.9 171.2h1M455.3 180.3h1M454.2 169.0h1M453.5 177.4h1M455.4 180.6h1M455.9 169.3h1M463.6 158.1h1M455.2 162.6h1M459.1 161.4h1M468.6 160.4h1M468.7 175.9h1M455.4 168.1h1M472.7 180.7h1M458.7 178.1h1M468.1 175.2h1M457.7 169.4h1M463.2 166.2h1M455.9 167.1h1M465.0 170.6h1M461.2 164.4h1M463.1 156.3h1M456.9 176.5h1M458.1 185.5h1M465.5 166.8h1M455.9 181.9h1M461.4 161.6h1M454.5 176.2h1M454.6 165.1h1M464.7 172.8h1M454.4 165.1h1M461.5 186.2h1M472.4 160.5h1M454.7 181.7h1M459.9 173.0h1M457.1 171.9h1M470.8 184.3h1M456.1 178.4h1M466.9 182.9h1M467.4 180.4h1M468.9 187.0h1M461.8 158.2h1M458.2 187.0h1M469.6 162.8h1M468.7 164.5h1M459.6 162.8h1M470.5 170.5h1M461.1 167.8h1M463.1 168.4h1M464.7 179.3h1M470.2 174.9h1M465.5 163.0h1M457.2 170.8h1M462.1 182.3h1M466.9 181.9h1M467.6 172.5h1M459.7 165.6h1M468.1 187.0h1M462.8 159.3h1M455.0 156.6h1M468.7 174.0h1M455.8 169.1h1M464.5 174.7h1M470.8 157.7h1" stroke="#3a3a3a" stroke-width="1" fill="none"/>
<path d="M475.0 184.1h1M475.8 184.3h1M481.0 166.2h1M479.0 174.0h1M485.2 167.0h1M475.8 169.7h1M483.5 173.5h1M483.6 184.5h1M477.2 184.7h1M475.1 166.0h1M484.0 175.2h1M480.7 184.3h1M485.7 181.3h1M485.3 171.9h1M485.0 175.2h1M480.8 185.7h1M483.2 175.2h1M476.0 172.6h1M479.3 185.1h1M482.7 179.3h1M476.7 175.3h1M480.7 174.9h1M484.7 174.7h1M485.7 181.2h1M475.3 184.9h1M481.9 181.7h1M498.1 166.7h1M476.4 183.6h1M498.9 169.1h1" stroke="#000" stroke-width="1" fill="none"/>
<path d="M281 55V186" stroke="#4a4a4a" stroke-width="1.35" fill="none"/>
<path d="M277.9 59.2L281 54.5L284.1 59.2" stroke="#2c2c2c" stroke-width="1.5" fill="none"/>
<path d="M331 242.8H473.6" stroke="#505050" stroke-width="1.7" fill="none"/>
<path d="M469.3 239.9L474.3 242.8L469.3 245.7" stroke="#2c2c2c" stroke-width="1.5" fill="none"/>
<text transform="translate(284.7,210.4) rotate(-90)" font-size="9.5" text-anchor="middle">CD11c</text>
<text x="314.1" y="248" font-size="9.5" text-anchor="middle">CFSE</text>
</svg>
</body></html>
